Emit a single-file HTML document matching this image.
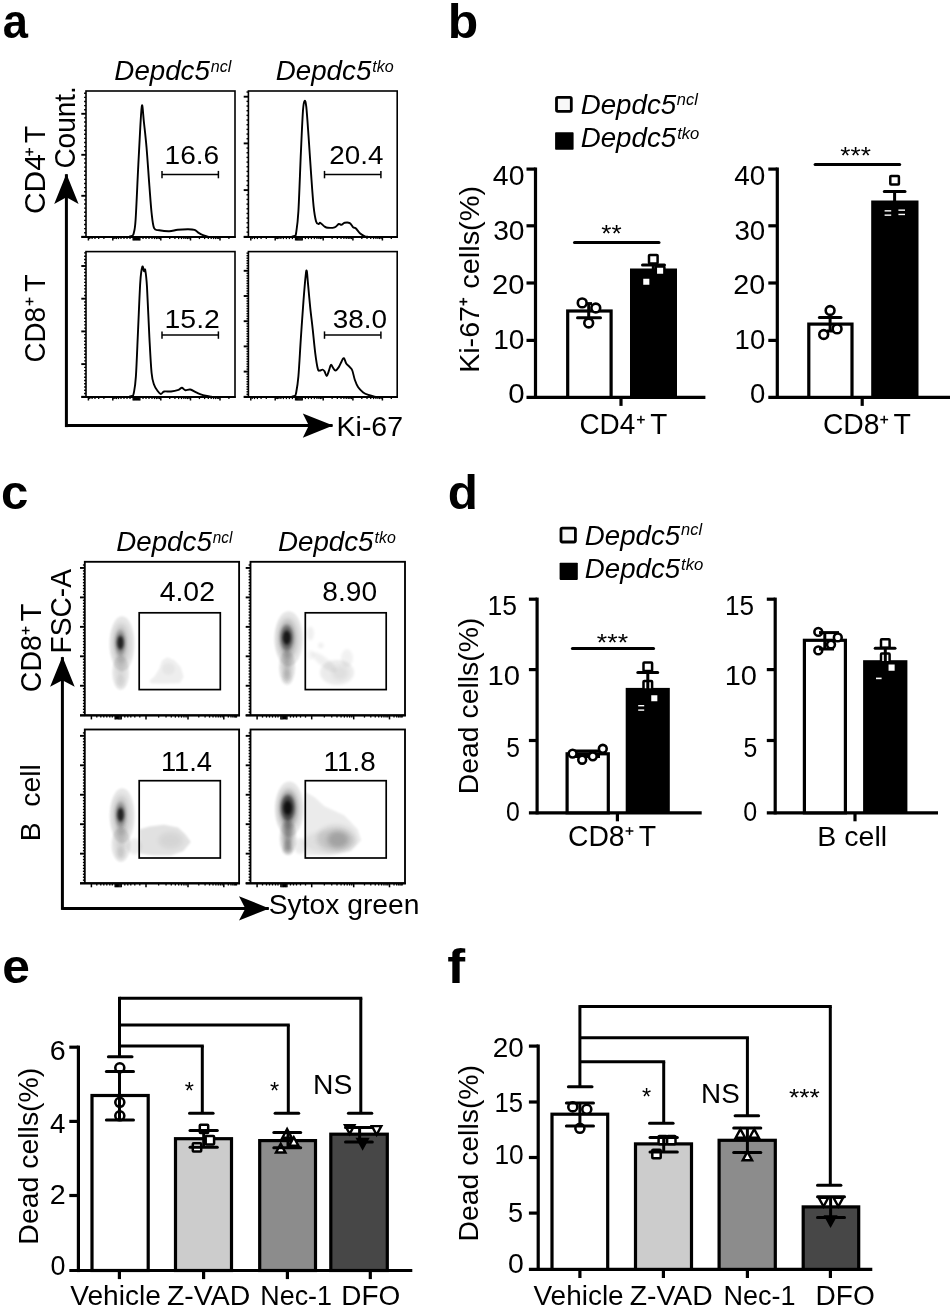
<!DOCTYPE html>
<html><head><meta charset="utf-8"><title>Figure</title>
<style>
html,body{margin:0;padding:0;background:#fff;}
svg{display:block;}
text{font-family:"Liberation Sans",sans-serif;fill:#000;}
</style></head><body>
<svg style="opacity:0.9999" width="950" height="1312" viewBox="0 0 950 1312">
<rect x="0" y="0" width="950" height="1312" fill="#fff"/>
<defs>
<filter id="bl1" x="-50%" y="-50%" width="200%" height="200%"><feGaussianBlur stdDeviation="1.6"/></filter>
<filter id="bl2" x="-50%" y="-50%" width="200%" height="200%"><feGaussianBlur stdDeviation="2.6"/></filter>
<filter id="bl4" x="-50%" y="-50%" width="200%" height="200%"><feGaussianBlur stdDeviation="1.1"/></filter>
<filter id="bl3" x="-50%" y="-50%" width="200%" height="200%"><feGaussianBlur stdDeviation="0.45"/></filter>
</defs>
<text transform="translate(2.79,37.70) scale(0.9249,1)" font-size="49" font-weight="bold" xml:space="preserve">a</text>
<text transform="translate(447.66,37.70) scale(1.0184,1)" font-size="49" font-weight="bold" xml:space="preserve">b</text>
<text transform="translate(0.88,508.70) scale(1.0037,1)" font-size="49" font-weight="bold" xml:space="preserve">c</text>
<text transform="translate(447.77,508.70) scale(1.0083,1)" font-size="49" font-weight="bold" xml:space="preserve">d</text>
<text transform="translate(2.16,982.80) scale(1.0141,1)" font-size="49" font-weight="bold" xml:space="preserve">e</text>
<text transform="translate(447.29,983.20) scale(1.0974,1)" font-size="49" font-weight="bold" xml:space="preserve">f</text>
<rect x="86.00" y="91.00" width="149.00" height="145.80" fill="none" stroke="#000" stroke-width="1.6"/>
<line x1="81.30" y1="236.80" x2="86.00" y2="236.80" stroke="#000" stroke-width="1.9" stroke-linecap="butt"/>
<line x1="84.10" y1="232.70" x2="86.00" y2="232.70" stroke="#000" stroke-width="1.4" stroke-linecap="butt"/>
<line x1="84.10" y1="228.60" x2="86.00" y2="228.60" stroke="#000" stroke-width="1.4" stroke-linecap="butt"/>
<line x1="84.10" y1="224.50" x2="86.00" y2="224.50" stroke="#000" stroke-width="1.4" stroke-linecap="butt"/>
<line x1="84.10" y1="220.40" x2="86.00" y2="220.40" stroke="#000" stroke-width="1.4" stroke-linecap="butt"/>
<line x1="84.10" y1="216.30" x2="86.00" y2="216.30" stroke="#000" stroke-width="1.4" stroke-linecap="butt"/>
<line x1="84.10" y1="212.20" x2="86.00" y2="212.20" stroke="#000" stroke-width="1.4" stroke-linecap="butt"/>
<line x1="84.10" y1="208.10" x2="86.00" y2="208.10" stroke="#000" stroke-width="1.4" stroke-linecap="butt"/>
<line x1="84.10" y1="204.00" x2="86.00" y2="204.00" stroke="#000" stroke-width="1.4" stroke-linecap="butt"/>
<line x1="84.10" y1="199.90" x2="86.00" y2="199.90" stroke="#000" stroke-width="1.4" stroke-linecap="butt"/>
<line x1="81.30" y1="195.80" x2="86.00" y2="195.80" stroke="#000" stroke-width="1.9" stroke-linecap="butt"/>
<line x1="84.10" y1="191.70" x2="86.00" y2="191.70" stroke="#000" stroke-width="1.4" stroke-linecap="butt"/>
<line x1="84.10" y1="187.60" x2="86.00" y2="187.60" stroke="#000" stroke-width="1.4" stroke-linecap="butt"/>
<line x1="84.10" y1="183.50" x2="86.00" y2="183.50" stroke="#000" stroke-width="1.4" stroke-linecap="butt"/>
<line x1="84.10" y1="179.40" x2="86.00" y2="179.40" stroke="#000" stroke-width="1.4" stroke-linecap="butt"/>
<line x1="84.10" y1="175.30" x2="86.00" y2="175.30" stroke="#000" stroke-width="1.4" stroke-linecap="butt"/>
<line x1="84.10" y1="171.20" x2="86.00" y2="171.20" stroke="#000" stroke-width="1.4" stroke-linecap="butt"/>
<line x1="84.10" y1="167.10" x2="86.00" y2="167.10" stroke="#000" stroke-width="1.4" stroke-linecap="butt"/>
<line x1="84.10" y1="163.00" x2="86.00" y2="163.00" stroke="#000" stroke-width="1.4" stroke-linecap="butt"/>
<line x1="84.10" y1="158.90" x2="86.00" y2="158.90" stroke="#000" stroke-width="1.4" stroke-linecap="butt"/>
<line x1="81.30" y1="154.80" x2="86.00" y2="154.80" stroke="#000" stroke-width="1.9" stroke-linecap="butt"/>
<line x1="84.10" y1="150.70" x2="86.00" y2="150.70" stroke="#000" stroke-width="1.4" stroke-linecap="butt"/>
<line x1="84.10" y1="146.60" x2="86.00" y2="146.60" stroke="#000" stroke-width="1.4" stroke-linecap="butt"/>
<line x1="84.10" y1="142.50" x2="86.00" y2="142.50" stroke="#000" stroke-width="1.4" stroke-linecap="butt"/>
<line x1="84.10" y1="138.40" x2="86.00" y2="138.40" stroke="#000" stroke-width="1.4" stroke-linecap="butt"/>
<line x1="84.10" y1="134.30" x2="86.00" y2="134.30" stroke="#000" stroke-width="1.4" stroke-linecap="butt"/>
<line x1="84.10" y1="130.20" x2="86.00" y2="130.20" stroke="#000" stroke-width="1.4" stroke-linecap="butt"/>
<line x1="84.10" y1="126.10" x2="86.00" y2="126.10" stroke="#000" stroke-width="1.4" stroke-linecap="butt"/>
<line x1="84.10" y1="122.00" x2="86.00" y2="122.00" stroke="#000" stroke-width="1.4" stroke-linecap="butt"/>
<line x1="84.10" y1="117.90" x2="86.00" y2="117.90" stroke="#000" stroke-width="1.4" stroke-linecap="butt"/>
<line x1="81.30" y1="113.80" x2="86.00" y2="113.80" stroke="#000" stroke-width="1.9" stroke-linecap="butt"/>
<line x1="84.10" y1="109.70" x2="86.00" y2="109.70" stroke="#000" stroke-width="1.4" stroke-linecap="butt"/>
<line x1="84.10" y1="105.60" x2="86.00" y2="105.60" stroke="#000" stroke-width="1.4" stroke-linecap="butt"/>
<line x1="84.10" y1="101.50" x2="86.00" y2="101.50" stroke="#000" stroke-width="1.4" stroke-linecap="butt"/>
<line x1="84.10" y1="97.40" x2="86.00" y2="97.40" stroke="#000" stroke-width="1.4" stroke-linecap="butt"/>
<line x1="84.10" y1="93.30" x2="86.00" y2="93.30" stroke="#000" stroke-width="1.4" stroke-linecap="butt"/>
<line x1="88.40" y1="236.80" x2="88.40" y2="240.50" stroke="#000" stroke-width="1.5" stroke-linecap="butt"/>
<line x1="112.80" y1="236.80" x2="112.80" y2="240.50" stroke="#000" stroke-width="1.5" stroke-linecap="butt"/>
<line x1="160.80" y1="236.80" x2="160.80" y2="240.50" stroke="#000" stroke-width="1.5" stroke-linecap="butt"/>
<line x1="190.50" y1="236.80" x2="190.50" y2="240.50" stroke="#000" stroke-width="1.5" stroke-linecap="butt"/>
<line x1="220.00" y1="236.80" x2="220.00" y2="240.50" stroke="#000" stroke-width="1.5" stroke-linecap="butt"/>
<line x1="133.20" y1="236.80" x2="133.20" y2="240.50" stroke="#000" stroke-width="1.5" stroke-linecap="butt"/>
<line x1="134.30" y1="236.80" x2="134.30" y2="240.50" stroke="#000" stroke-width="1.5" stroke-linecap="butt"/>
<line x1="135.40" y1="236.80" x2="135.40" y2="240.50" stroke="#000" stroke-width="1.5" stroke-linecap="butt"/>
<line x1="136.50" y1="236.80" x2="136.50" y2="240.50" stroke="#000" stroke-width="1.5" stroke-linecap="butt"/>
<line x1="137.60" y1="236.80" x2="137.60" y2="240.50" stroke="#000" stroke-width="1.5" stroke-linecap="butt"/>
<line x1="138.70" y1="236.80" x2="138.70" y2="240.50" stroke="#000" stroke-width="1.5" stroke-linecap="butt"/>
<line x1="139.80" y1="236.80" x2="139.80" y2="240.50" stroke="#000" stroke-width="1.5" stroke-linecap="butt"/>
<line x1="169.71" y1="236.80" x2="169.71" y2="239.10" stroke="#000" stroke-width="1.3" stroke-linecap="butt"/>
<line x1="174.92" y1="236.80" x2="174.92" y2="239.10" stroke="#000" stroke-width="1.3" stroke-linecap="butt"/>
<line x1="178.62" y1="236.80" x2="178.62" y2="239.10" stroke="#000" stroke-width="1.3" stroke-linecap="butt"/>
<line x1="181.49" y1="236.80" x2="181.49" y2="239.10" stroke="#000" stroke-width="1.3" stroke-linecap="butt"/>
<line x1="183.83" y1="236.80" x2="183.83" y2="239.10" stroke="#000" stroke-width="1.3" stroke-linecap="butt"/>
<line x1="185.81" y1="236.80" x2="185.81" y2="239.10" stroke="#000" stroke-width="1.3" stroke-linecap="butt"/>
<line x1="187.53" y1="236.80" x2="187.53" y2="239.10" stroke="#000" stroke-width="1.3" stroke-linecap="butt"/>
<line x1="189.05" y1="236.80" x2="189.05" y2="239.10" stroke="#000" stroke-width="1.3" stroke-linecap="butt"/>
<line x1="199.41" y1="236.80" x2="199.41" y2="239.10" stroke="#000" stroke-width="1.3" stroke-linecap="butt"/>
<line x1="204.62" y1="236.80" x2="204.62" y2="239.10" stroke="#000" stroke-width="1.3" stroke-linecap="butt"/>
<line x1="208.32" y1="236.80" x2="208.32" y2="239.10" stroke="#000" stroke-width="1.3" stroke-linecap="butt"/>
<line x1="211.19" y1="236.80" x2="211.19" y2="239.10" stroke="#000" stroke-width="1.3" stroke-linecap="butt"/>
<line x1="213.53" y1="236.80" x2="213.53" y2="239.10" stroke="#000" stroke-width="1.3" stroke-linecap="butt"/>
<line x1="215.51" y1="236.80" x2="215.51" y2="239.10" stroke="#000" stroke-width="1.3" stroke-linecap="butt"/>
<line x1="217.23" y1="236.80" x2="217.23" y2="239.10" stroke="#000" stroke-width="1.3" stroke-linecap="butt"/>
<line x1="218.75" y1="236.80" x2="218.75" y2="239.10" stroke="#000" stroke-width="1.3" stroke-linecap="butt"/>
<line x1="228.91" y1="236.80" x2="228.91" y2="239.10" stroke="#000" stroke-width="1.3" stroke-linecap="butt"/>
<line x1="143.00" y1="236.80" x2="143.00" y2="239.10" stroke="#000" stroke-width="1.3" stroke-linecap="butt"/>
<line x1="146.00" y1="236.80" x2="146.00" y2="239.10" stroke="#000" stroke-width="1.3" stroke-linecap="butt"/>
<line x1="149.00" y1="236.80" x2="149.00" y2="239.10" stroke="#000" stroke-width="1.3" stroke-linecap="butt"/>
<line x1="152.00" y1="236.80" x2="152.00" y2="239.10" stroke="#000" stroke-width="1.3" stroke-linecap="butt"/>
<line x1="154.50" y1="236.80" x2="154.50" y2="239.10" stroke="#000" stroke-width="1.3" stroke-linecap="butt"/>
<line x1="156.50" y1="236.80" x2="156.50" y2="239.10" stroke="#000" stroke-width="1.3" stroke-linecap="butt"/>
<line x1="158.00" y1="236.80" x2="158.00" y2="239.10" stroke="#000" stroke-width="1.3" stroke-linecap="butt"/>
<line x1="159.50" y1="236.80" x2="159.50" y2="239.10" stroke="#000" stroke-width="1.3" stroke-linecap="butt"/>
<line x1="130.00" y1="236.80" x2="130.00" y2="239.10" stroke="#000" stroke-width="1.3" stroke-linecap="butt"/>
<line x1="127.00" y1="236.80" x2="127.00" y2="239.10" stroke="#000" stroke-width="1.3" stroke-linecap="butt"/>
<line x1="124.00" y1="236.80" x2="124.00" y2="239.10" stroke="#000" stroke-width="1.3" stroke-linecap="butt"/>
<line x1="121.00" y1="236.80" x2="121.00" y2="239.10" stroke="#000" stroke-width="1.3" stroke-linecap="butt"/>
<line x1="118.50" y1="236.80" x2="118.50" y2="239.10" stroke="#000" stroke-width="1.3" stroke-linecap="butt"/>
<line x1="116.50" y1="236.80" x2="116.50" y2="239.10" stroke="#000" stroke-width="1.3" stroke-linecap="butt"/>
<line x1="115.00" y1="236.80" x2="115.00" y2="239.10" stroke="#000" stroke-width="1.3" stroke-linecap="butt"/>
<line x1="113.80" y1="236.80" x2="113.80" y2="239.10" stroke="#000" stroke-width="1.3" stroke-linecap="butt"/>
<line x1="103.89" y1="236.80" x2="103.89" y2="239.10" stroke="#000" stroke-width="1.3" stroke-linecap="butt"/>
<line x1="98.68" y1="236.80" x2="98.68" y2="239.10" stroke="#000" stroke-width="1.3" stroke-linecap="butt"/>
<line x1="94.98" y1="236.80" x2="94.98" y2="239.10" stroke="#000" stroke-width="1.3" stroke-linecap="butt"/>
<line x1="92.11" y1="236.80" x2="92.11" y2="239.10" stroke="#000" stroke-width="1.3" stroke-linecap="butt"/>
<line x1="89.77" y1="236.80" x2="89.77" y2="239.10" stroke="#000" stroke-width="1.3" stroke-linecap="butt"/>
<line x1="81.40" y1="237.15" x2="235.80" y2="237.15" stroke="#000" stroke-width="1.9" stroke-linecap="butt"/>
<rect x="248.40" y="91.00" width="148.80" height="145.80" fill="none" stroke="#000" stroke-width="1.6"/>
<line x1="243.70" y1="236.80" x2="248.40" y2="236.80" stroke="#000" stroke-width="1.9" stroke-linecap="butt"/>
<line x1="246.50" y1="232.13" x2="248.40" y2="232.13" stroke="#000" stroke-width="1.4" stroke-linecap="butt"/>
<line x1="246.50" y1="227.46" x2="248.40" y2="227.46" stroke="#000" stroke-width="1.4" stroke-linecap="butt"/>
<line x1="246.50" y1="222.79" x2="248.40" y2="222.79" stroke="#000" stroke-width="1.4" stroke-linecap="butt"/>
<line x1="246.50" y1="218.12" x2="248.40" y2="218.12" stroke="#000" stroke-width="1.4" stroke-linecap="butt"/>
<line x1="246.50" y1="213.45" x2="248.40" y2="213.45" stroke="#000" stroke-width="1.4" stroke-linecap="butt"/>
<line x1="246.50" y1="208.78" x2="248.40" y2="208.78" stroke="#000" stroke-width="1.4" stroke-linecap="butt"/>
<line x1="246.50" y1="204.11" x2="248.40" y2="204.11" stroke="#000" stroke-width="1.4" stroke-linecap="butt"/>
<line x1="246.50" y1="199.44" x2="248.40" y2="199.44" stroke="#000" stroke-width="1.4" stroke-linecap="butt"/>
<line x1="246.50" y1="194.77" x2="248.40" y2="194.77" stroke="#000" stroke-width="1.4" stroke-linecap="butt"/>
<line x1="243.70" y1="190.10" x2="248.40" y2="190.10" stroke="#000" stroke-width="1.9" stroke-linecap="butt"/>
<line x1="246.50" y1="185.43" x2="248.40" y2="185.43" stroke="#000" stroke-width="1.4" stroke-linecap="butt"/>
<line x1="246.50" y1="180.76" x2="248.40" y2="180.76" stroke="#000" stroke-width="1.4" stroke-linecap="butt"/>
<line x1="246.50" y1="176.09" x2="248.40" y2="176.09" stroke="#000" stroke-width="1.4" stroke-linecap="butt"/>
<line x1="246.50" y1="171.42" x2="248.40" y2="171.42" stroke="#000" stroke-width="1.4" stroke-linecap="butt"/>
<line x1="246.50" y1="166.75" x2="248.40" y2="166.75" stroke="#000" stroke-width="1.4" stroke-linecap="butt"/>
<line x1="246.50" y1="162.08" x2="248.40" y2="162.08" stroke="#000" stroke-width="1.4" stroke-linecap="butt"/>
<line x1="246.50" y1="157.41" x2="248.40" y2="157.41" stroke="#000" stroke-width="1.4" stroke-linecap="butt"/>
<line x1="246.50" y1="152.74" x2="248.40" y2="152.74" stroke="#000" stroke-width="1.4" stroke-linecap="butt"/>
<line x1="246.50" y1="148.07" x2="248.40" y2="148.07" stroke="#000" stroke-width="1.4" stroke-linecap="butt"/>
<line x1="243.70" y1="143.40" x2="248.40" y2="143.40" stroke="#000" stroke-width="1.9" stroke-linecap="butt"/>
<line x1="246.50" y1="138.73" x2="248.40" y2="138.73" stroke="#000" stroke-width="1.4" stroke-linecap="butt"/>
<line x1="246.50" y1="134.06" x2="248.40" y2="134.06" stroke="#000" stroke-width="1.4" stroke-linecap="butt"/>
<line x1="246.50" y1="129.39" x2="248.40" y2="129.39" stroke="#000" stroke-width="1.4" stroke-linecap="butt"/>
<line x1="246.50" y1="124.72" x2="248.40" y2="124.72" stroke="#000" stroke-width="1.4" stroke-linecap="butt"/>
<line x1="246.50" y1="120.05" x2="248.40" y2="120.05" stroke="#000" stroke-width="1.4" stroke-linecap="butt"/>
<line x1="246.50" y1="115.38" x2="248.40" y2="115.38" stroke="#000" stroke-width="1.4" stroke-linecap="butt"/>
<line x1="246.50" y1="110.71" x2="248.40" y2="110.71" stroke="#000" stroke-width="1.4" stroke-linecap="butt"/>
<line x1="246.50" y1="106.04" x2="248.40" y2="106.04" stroke="#000" stroke-width="1.4" stroke-linecap="butt"/>
<line x1="246.50" y1="101.37" x2="248.40" y2="101.37" stroke="#000" stroke-width="1.4" stroke-linecap="butt"/>
<line x1="243.70" y1="96.70" x2="248.40" y2="96.70" stroke="#000" stroke-width="1.9" stroke-linecap="butt"/>
<line x1="246.50" y1="92.03" x2="248.40" y2="92.03" stroke="#000" stroke-width="1.4" stroke-linecap="butt"/>
<line x1="250.80" y1="236.80" x2="250.80" y2="240.50" stroke="#000" stroke-width="1.5" stroke-linecap="butt"/>
<line x1="275.20" y1="236.80" x2="275.20" y2="240.50" stroke="#000" stroke-width="1.5" stroke-linecap="butt"/>
<line x1="323.20" y1="236.80" x2="323.20" y2="240.50" stroke="#000" stroke-width="1.5" stroke-linecap="butt"/>
<line x1="352.90" y1="236.80" x2="352.90" y2="240.50" stroke="#000" stroke-width="1.5" stroke-linecap="butt"/>
<line x1="382.40" y1="236.80" x2="382.40" y2="240.50" stroke="#000" stroke-width="1.5" stroke-linecap="butt"/>
<line x1="295.60" y1="236.80" x2="295.60" y2="240.50" stroke="#000" stroke-width="1.5" stroke-linecap="butt"/>
<line x1="296.70" y1="236.80" x2="296.70" y2="240.50" stroke="#000" stroke-width="1.5" stroke-linecap="butt"/>
<line x1="297.80" y1="236.80" x2="297.80" y2="240.50" stroke="#000" stroke-width="1.5" stroke-linecap="butt"/>
<line x1="298.90" y1="236.80" x2="298.90" y2="240.50" stroke="#000" stroke-width="1.5" stroke-linecap="butt"/>
<line x1="300.00" y1="236.80" x2="300.00" y2="240.50" stroke="#000" stroke-width="1.5" stroke-linecap="butt"/>
<line x1="301.10" y1="236.80" x2="301.10" y2="240.50" stroke="#000" stroke-width="1.5" stroke-linecap="butt"/>
<line x1="302.20" y1="236.80" x2="302.20" y2="240.50" stroke="#000" stroke-width="1.5" stroke-linecap="butt"/>
<line x1="332.11" y1="236.80" x2="332.11" y2="239.10" stroke="#000" stroke-width="1.3" stroke-linecap="butt"/>
<line x1="337.32" y1="236.80" x2="337.32" y2="239.10" stroke="#000" stroke-width="1.3" stroke-linecap="butt"/>
<line x1="341.02" y1="236.80" x2="341.02" y2="239.10" stroke="#000" stroke-width="1.3" stroke-linecap="butt"/>
<line x1="343.89" y1="236.80" x2="343.89" y2="239.10" stroke="#000" stroke-width="1.3" stroke-linecap="butt"/>
<line x1="346.23" y1="236.80" x2="346.23" y2="239.10" stroke="#000" stroke-width="1.3" stroke-linecap="butt"/>
<line x1="348.21" y1="236.80" x2="348.21" y2="239.10" stroke="#000" stroke-width="1.3" stroke-linecap="butt"/>
<line x1="349.93" y1="236.80" x2="349.93" y2="239.10" stroke="#000" stroke-width="1.3" stroke-linecap="butt"/>
<line x1="351.45" y1="236.80" x2="351.45" y2="239.10" stroke="#000" stroke-width="1.3" stroke-linecap="butt"/>
<line x1="361.81" y1="236.80" x2="361.81" y2="239.10" stroke="#000" stroke-width="1.3" stroke-linecap="butt"/>
<line x1="367.02" y1="236.80" x2="367.02" y2="239.10" stroke="#000" stroke-width="1.3" stroke-linecap="butt"/>
<line x1="370.72" y1="236.80" x2="370.72" y2="239.10" stroke="#000" stroke-width="1.3" stroke-linecap="butt"/>
<line x1="373.59" y1="236.80" x2="373.59" y2="239.10" stroke="#000" stroke-width="1.3" stroke-linecap="butt"/>
<line x1="375.93" y1="236.80" x2="375.93" y2="239.10" stroke="#000" stroke-width="1.3" stroke-linecap="butt"/>
<line x1="377.91" y1="236.80" x2="377.91" y2="239.10" stroke="#000" stroke-width="1.3" stroke-linecap="butt"/>
<line x1="379.63" y1="236.80" x2="379.63" y2="239.10" stroke="#000" stroke-width="1.3" stroke-linecap="butt"/>
<line x1="381.15" y1="236.80" x2="381.15" y2="239.10" stroke="#000" stroke-width="1.3" stroke-linecap="butt"/>
<line x1="391.31" y1="236.80" x2="391.31" y2="239.10" stroke="#000" stroke-width="1.3" stroke-linecap="butt"/>
<line x1="305.40" y1="236.80" x2="305.40" y2="239.10" stroke="#000" stroke-width="1.3" stroke-linecap="butt"/>
<line x1="308.40" y1="236.80" x2="308.40" y2="239.10" stroke="#000" stroke-width="1.3" stroke-linecap="butt"/>
<line x1="311.40" y1="236.80" x2="311.40" y2="239.10" stroke="#000" stroke-width="1.3" stroke-linecap="butt"/>
<line x1="314.40" y1="236.80" x2="314.40" y2="239.10" stroke="#000" stroke-width="1.3" stroke-linecap="butt"/>
<line x1="316.90" y1="236.80" x2="316.90" y2="239.10" stroke="#000" stroke-width="1.3" stroke-linecap="butt"/>
<line x1="318.90" y1="236.80" x2="318.90" y2="239.10" stroke="#000" stroke-width="1.3" stroke-linecap="butt"/>
<line x1="320.40" y1="236.80" x2="320.40" y2="239.10" stroke="#000" stroke-width="1.3" stroke-linecap="butt"/>
<line x1="321.90" y1="236.80" x2="321.90" y2="239.10" stroke="#000" stroke-width="1.3" stroke-linecap="butt"/>
<line x1="292.40" y1="236.80" x2="292.40" y2="239.10" stroke="#000" stroke-width="1.3" stroke-linecap="butt"/>
<line x1="289.40" y1="236.80" x2="289.40" y2="239.10" stroke="#000" stroke-width="1.3" stroke-linecap="butt"/>
<line x1="286.40" y1="236.80" x2="286.40" y2="239.10" stroke="#000" stroke-width="1.3" stroke-linecap="butt"/>
<line x1="283.40" y1="236.80" x2="283.40" y2="239.10" stroke="#000" stroke-width="1.3" stroke-linecap="butt"/>
<line x1="280.90" y1="236.80" x2="280.90" y2="239.10" stroke="#000" stroke-width="1.3" stroke-linecap="butt"/>
<line x1="278.90" y1="236.80" x2="278.90" y2="239.10" stroke="#000" stroke-width="1.3" stroke-linecap="butt"/>
<line x1="277.40" y1="236.80" x2="277.40" y2="239.10" stroke="#000" stroke-width="1.3" stroke-linecap="butt"/>
<line x1="276.20" y1="236.80" x2="276.20" y2="239.10" stroke="#000" stroke-width="1.3" stroke-linecap="butt"/>
<line x1="266.29" y1="236.80" x2="266.29" y2="239.10" stroke="#000" stroke-width="1.3" stroke-linecap="butt"/>
<line x1="261.08" y1="236.80" x2="261.08" y2="239.10" stroke="#000" stroke-width="1.3" stroke-linecap="butt"/>
<line x1="257.38" y1="236.80" x2="257.38" y2="239.10" stroke="#000" stroke-width="1.3" stroke-linecap="butt"/>
<line x1="254.51" y1="236.80" x2="254.51" y2="239.10" stroke="#000" stroke-width="1.3" stroke-linecap="butt"/>
<line x1="252.17" y1="236.80" x2="252.17" y2="239.10" stroke="#000" stroke-width="1.3" stroke-linecap="butt"/>
<line x1="243.80" y1="237.15" x2="398.00" y2="237.15" stroke="#000" stroke-width="1.9" stroke-linecap="butt"/>
<rect x="86.00" y="251.60" width="149.00" height="145.20" fill="none" stroke="#000" stroke-width="1.6"/>
<line x1="81.30" y1="396.80" x2="86.00" y2="396.80" stroke="#000" stroke-width="1.9" stroke-linecap="butt"/>
<line x1="84.10" y1="393.53" x2="86.00" y2="393.53" stroke="#000" stroke-width="1.4" stroke-linecap="butt"/>
<line x1="84.10" y1="390.26" x2="86.00" y2="390.26" stroke="#000" stroke-width="1.4" stroke-linecap="butt"/>
<line x1="84.10" y1="386.99" x2="86.00" y2="386.99" stroke="#000" stroke-width="1.4" stroke-linecap="butt"/>
<line x1="84.10" y1="383.72" x2="86.00" y2="383.72" stroke="#000" stroke-width="1.4" stroke-linecap="butt"/>
<line x1="84.10" y1="380.45" x2="86.00" y2="380.45" stroke="#000" stroke-width="1.4" stroke-linecap="butt"/>
<line x1="84.10" y1="377.18" x2="86.00" y2="377.18" stroke="#000" stroke-width="1.4" stroke-linecap="butt"/>
<line x1="84.10" y1="373.91" x2="86.00" y2="373.91" stroke="#000" stroke-width="1.4" stroke-linecap="butt"/>
<line x1="84.10" y1="370.64" x2="86.00" y2="370.64" stroke="#000" stroke-width="1.4" stroke-linecap="butt"/>
<line x1="84.10" y1="367.37" x2="86.00" y2="367.37" stroke="#000" stroke-width="1.4" stroke-linecap="butt"/>
<line x1="81.30" y1="364.10" x2="86.00" y2="364.10" stroke="#000" stroke-width="1.9" stroke-linecap="butt"/>
<line x1="84.10" y1="360.83" x2="86.00" y2="360.83" stroke="#000" stroke-width="1.4" stroke-linecap="butt"/>
<line x1="84.10" y1="357.56" x2="86.00" y2="357.56" stroke="#000" stroke-width="1.4" stroke-linecap="butt"/>
<line x1="84.10" y1="354.29" x2="86.00" y2="354.29" stroke="#000" stroke-width="1.4" stroke-linecap="butt"/>
<line x1="84.10" y1="351.02" x2="86.00" y2="351.02" stroke="#000" stroke-width="1.4" stroke-linecap="butt"/>
<line x1="84.10" y1="347.75" x2="86.00" y2="347.75" stroke="#000" stroke-width="1.4" stroke-linecap="butt"/>
<line x1="84.10" y1="344.48" x2="86.00" y2="344.48" stroke="#000" stroke-width="1.4" stroke-linecap="butt"/>
<line x1="84.10" y1="341.21" x2="86.00" y2="341.21" stroke="#000" stroke-width="1.4" stroke-linecap="butt"/>
<line x1="84.10" y1="337.94" x2="86.00" y2="337.94" stroke="#000" stroke-width="1.4" stroke-linecap="butt"/>
<line x1="84.10" y1="334.67" x2="86.00" y2="334.67" stroke="#000" stroke-width="1.4" stroke-linecap="butt"/>
<line x1="81.30" y1="331.40" x2="86.00" y2="331.40" stroke="#000" stroke-width="1.9" stroke-linecap="butt"/>
<line x1="84.10" y1="328.13" x2="86.00" y2="328.13" stroke="#000" stroke-width="1.4" stroke-linecap="butt"/>
<line x1="84.10" y1="324.86" x2="86.00" y2="324.86" stroke="#000" stroke-width="1.4" stroke-linecap="butt"/>
<line x1="84.10" y1="321.59" x2="86.00" y2="321.59" stroke="#000" stroke-width="1.4" stroke-linecap="butt"/>
<line x1="84.10" y1="318.32" x2="86.00" y2="318.32" stroke="#000" stroke-width="1.4" stroke-linecap="butt"/>
<line x1="84.10" y1="315.05" x2="86.00" y2="315.05" stroke="#000" stroke-width="1.4" stroke-linecap="butt"/>
<line x1="84.10" y1="311.78" x2="86.00" y2="311.78" stroke="#000" stroke-width="1.4" stroke-linecap="butt"/>
<line x1="84.10" y1="308.51" x2="86.00" y2="308.51" stroke="#000" stroke-width="1.4" stroke-linecap="butt"/>
<line x1="84.10" y1="305.24" x2="86.00" y2="305.24" stroke="#000" stroke-width="1.4" stroke-linecap="butt"/>
<line x1="84.10" y1="301.97" x2="86.00" y2="301.97" stroke="#000" stroke-width="1.4" stroke-linecap="butt"/>
<line x1="81.30" y1="298.70" x2="86.00" y2="298.70" stroke="#000" stroke-width="1.9" stroke-linecap="butt"/>
<line x1="84.10" y1="295.43" x2="86.00" y2="295.43" stroke="#000" stroke-width="1.4" stroke-linecap="butt"/>
<line x1="84.10" y1="292.16" x2="86.00" y2="292.16" stroke="#000" stroke-width="1.4" stroke-linecap="butt"/>
<line x1="84.10" y1="288.89" x2="86.00" y2="288.89" stroke="#000" stroke-width="1.4" stroke-linecap="butt"/>
<line x1="84.10" y1="285.62" x2="86.00" y2="285.62" stroke="#000" stroke-width="1.4" stroke-linecap="butt"/>
<line x1="84.10" y1="282.35" x2="86.00" y2="282.35" stroke="#000" stroke-width="1.4" stroke-linecap="butt"/>
<line x1="84.10" y1="279.08" x2="86.00" y2="279.08" stroke="#000" stroke-width="1.4" stroke-linecap="butt"/>
<line x1="84.10" y1="275.81" x2="86.00" y2="275.81" stroke="#000" stroke-width="1.4" stroke-linecap="butt"/>
<line x1="84.10" y1="272.54" x2="86.00" y2="272.54" stroke="#000" stroke-width="1.4" stroke-linecap="butt"/>
<line x1="84.10" y1="269.27" x2="86.00" y2="269.27" stroke="#000" stroke-width="1.4" stroke-linecap="butt"/>
<line x1="81.30" y1="266.00" x2="86.00" y2="266.00" stroke="#000" stroke-width="1.9" stroke-linecap="butt"/>
<line x1="84.10" y1="262.73" x2="86.00" y2="262.73" stroke="#000" stroke-width="1.4" stroke-linecap="butt"/>
<line x1="84.10" y1="259.46" x2="86.00" y2="259.46" stroke="#000" stroke-width="1.4" stroke-linecap="butt"/>
<line x1="84.10" y1="256.19" x2="86.00" y2="256.19" stroke="#000" stroke-width="1.4" stroke-linecap="butt"/>
<line x1="84.10" y1="252.92" x2="86.00" y2="252.92" stroke="#000" stroke-width="1.4" stroke-linecap="butt"/>
<line x1="88.40" y1="396.80" x2="88.40" y2="400.50" stroke="#000" stroke-width="1.5" stroke-linecap="butt"/>
<line x1="112.80" y1="396.80" x2="112.80" y2="400.50" stroke="#000" stroke-width="1.5" stroke-linecap="butt"/>
<line x1="160.80" y1="396.80" x2="160.80" y2="400.50" stroke="#000" stroke-width="1.5" stroke-linecap="butt"/>
<line x1="190.50" y1="396.80" x2="190.50" y2="400.50" stroke="#000" stroke-width="1.5" stroke-linecap="butt"/>
<line x1="220.00" y1="396.80" x2="220.00" y2="400.50" stroke="#000" stroke-width="1.5" stroke-linecap="butt"/>
<line x1="133.20" y1="396.80" x2="133.20" y2="400.50" stroke="#000" stroke-width="1.5" stroke-linecap="butt"/>
<line x1="134.30" y1="396.80" x2="134.30" y2="400.50" stroke="#000" stroke-width="1.5" stroke-linecap="butt"/>
<line x1="135.40" y1="396.80" x2="135.40" y2="400.50" stroke="#000" stroke-width="1.5" stroke-linecap="butt"/>
<line x1="136.50" y1="396.80" x2="136.50" y2="400.50" stroke="#000" stroke-width="1.5" stroke-linecap="butt"/>
<line x1="137.60" y1="396.80" x2="137.60" y2="400.50" stroke="#000" stroke-width="1.5" stroke-linecap="butt"/>
<line x1="138.70" y1="396.80" x2="138.70" y2="400.50" stroke="#000" stroke-width="1.5" stroke-linecap="butt"/>
<line x1="139.80" y1="396.80" x2="139.80" y2="400.50" stroke="#000" stroke-width="1.5" stroke-linecap="butt"/>
<line x1="169.71" y1="396.80" x2="169.71" y2="399.10" stroke="#000" stroke-width="1.3" stroke-linecap="butt"/>
<line x1="174.92" y1="396.80" x2="174.92" y2="399.10" stroke="#000" stroke-width="1.3" stroke-linecap="butt"/>
<line x1="178.62" y1="396.80" x2="178.62" y2="399.10" stroke="#000" stroke-width="1.3" stroke-linecap="butt"/>
<line x1="181.49" y1="396.80" x2="181.49" y2="399.10" stroke="#000" stroke-width="1.3" stroke-linecap="butt"/>
<line x1="183.83" y1="396.80" x2="183.83" y2="399.10" stroke="#000" stroke-width="1.3" stroke-linecap="butt"/>
<line x1="185.81" y1="396.80" x2="185.81" y2="399.10" stroke="#000" stroke-width="1.3" stroke-linecap="butt"/>
<line x1="187.53" y1="396.80" x2="187.53" y2="399.10" stroke="#000" stroke-width="1.3" stroke-linecap="butt"/>
<line x1="189.05" y1="396.80" x2="189.05" y2="399.10" stroke="#000" stroke-width="1.3" stroke-linecap="butt"/>
<line x1="199.41" y1="396.80" x2="199.41" y2="399.10" stroke="#000" stroke-width="1.3" stroke-linecap="butt"/>
<line x1="204.62" y1="396.80" x2="204.62" y2="399.10" stroke="#000" stroke-width="1.3" stroke-linecap="butt"/>
<line x1="208.32" y1="396.80" x2="208.32" y2="399.10" stroke="#000" stroke-width="1.3" stroke-linecap="butt"/>
<line x1="211.19" y1="396.80" x2="211.19" y2="399.10" stroke="#000" stroke-width="1.3" stroke-linecap="butt"/>
<line x1="213.53" y1="396.80" x2="213.53" y2="399.10" stroke="#000" stroke-width="1.3" stroke-linecap="butt"/>
<line x1="215.51" y1="396.80" x2="215.51" y2="399.10" stroke="#000" stroke-width="1.3" stroke-linecap="butt"/>
<line x1="217.23" y1="396.80" x2="217.23" y2="399.10" stroke="#000" stroke-width="1.3" stroke-linecap="butt"/>
<line x1="218.75" y1="396.80" x2="218.75" y2="399.10" stroke="#000" stroke-width="1.3" stroke-linecap="butt"/>
<line x1="228.91" y1="396.80" x2="228.91" y2="399.10" stroke="#000" stroke-width="1.3" stroke-linecap="butt"/>
<line x1="143.00" y1="396.80" x2="143.00" y2="399.10" stroke="#000" stroke-width="1.3" stroke-linecap="butt"/>
<line x1="146.00" y1="396.80" x2="146.00" y2="399.10" stroke="#000" stroke-width="1.3" stroke-linecap="butt"/>
<line x1="149.00" y1="396.80" x2="149.00" y2="399.10" stroke="#000" stroke-width="1.3" stroke-linecap="butt"/>
<line x1="152.00" y1="396.80" x2="152.00" y2="399.10" stroke="#000" stroke-width="1.3" stroke-linecap="butt"/>
<line x1="154.50" y1="396.80" x2="154.50" y2="399.10" stroke="#000" stroke-width="1.3" stroke-linecap="butt"/>
<line x1="156.50" y1="396.80" x2="156.50" y2="399.10" stroke="#000" stroke-width="1.3" stroke-linecap="butt"/>
<line x1="158.00" y1="396.80" x2="158.00" y2="399.10" stroke="#000" stroke-width="1.3" stroke-linecap="butt"/>
<line x1="159.50" y1="396.80" x2="159.50" y2="399.10" stroke="#000" stroke-width="1.3" stroke-linecap="butt"/>
<line x1="130.00" y1="396.80" x2="130.00" y2="399.10" stroke="#000" stroke-width="1.3" stroke-linecap="butt"/>
<line x1="127.00" y1="396.80" x2="127.00" y2="399.10" stroke="#000" stroke-width="1.3" stroke-linecap="butt"/>
<line x1="124.00" y1="396.80" x2="124.00" y2="399.10" stroke="#000" stroke-width="1.3" stroke-linecap="butt"/>
<line x1="121.00" y1="396.80" x2="121.00" y2="399.10" stroke="#000" stroke-width="1.3" stroke-linecap="butt"/>
<line x1="118.50" y1="396.80" x2="118.50" y2="399.10" stroke="#000" stroke-width="1.3" stroke-linecap="butt"/>
<line x1="116.50" y1="396.80" x2="116.50" y2="399.10" stroke="#000" stroke-width="1.3" stroke-linecap="butt"/>
<line x1="115.00" y1="396.80" x2="115.00" y2="399.10" stroke="#000" stroke-width="1.3" stroke-linecap="butt"/>
<line x1="113.80" y1="396.80" x2="113.80" y2="399.10" stroke="#000" stroke-width="1.3" stroke-linecap="butt"/>
<line x1="103.89" y1="396.80" x2="103.89" y2="399.10" stroke="#000" stroke-width="1.3" stroke-linecap="butt"/>
<line x1="98.68" y1="396.80" x2="98.68" y2="399.10" stroke="#000" stroke-width="1.3" stroke-linecap="butt"/>
<line x1="94.98" y1="396.80" x2="94.98" y2="399.10" stroke="#000" stroke-width="1.3" stroke-linecap="butt"/>
<line x1="92.11" y1="396.80" x2="92.11" y2="399.10" stroke="#000" stroke-width="1.3" stroke-linecap="butt"/>
<line x1="89.77" y1="396.80" x2="89.77" y2="399.10" stroke="#000" stroke-width="1.3" stroke-linecap="butt"/>
<line x1="81.40" y1="397.15" x2="235.80" y2="397.15" stroke="#000" stroke-width="1.9" stroke-linecap="butt"/>
<rect x="248.40" y="251.60" width="148.80" height="145.20" fill="none" stroke="#000" stroke-width="1.6"/>
<line x1="243.70" y1="396.80" x2="248.40" y2="396.80" stroke="#000" stroke-width="1.9" stroke-linecap="butt"/>
<line x1="246.50" y1="394.28" x2="248.40" y2="394.28" stroke="#000" stroke-width="1.4" stroke-linecap="butt"/>
<line x1="246.50" y1="391.76" x2="248.40" y2="391.76" stroke="#000" stroke-width="1.4" stroke-linecap="butt"/>
<line x1="246.50" y1="389.24" x2="248.40" y2="389.24" stroke="#000" stroke-width="1.4" stroke-linecap="butt"/>
<line x1="246.50" y1="386.72" x2="248.40" y2="386.72" stroke="#000" stroke-width="1.4" stroke-linecap="butt"/>
<line x1="246.50" y1="384.20" x2="248.40" y2="384.20" stroke="#000" stroke-width="1.4" stroke-linecap="butt"/>
<line x1="246.50" y1="381.68" x2="248.40" y2="381.68" stroke="#000" stroke-width="1.4" stroke-linecap="butt"/>
<line x1="246.50" y1="379.16" x2="248.40" y2="379.16" stroke="#000" stroke-width="1.4" stroke-linecap="butt"/>
<line x1="246.50" y1="376.64" x2="248.40" y2="376.64" stroke="#000" stroke-width="1.4" stroke-linecap="butt"/>
<line x1="246.50" y1="374.12" x2="248.40" y2="374.12" stroke="#000" stroke-width="1.4" stroke-linecap="butt"/>
<line x1="243.70" y1="371.60" x2="248.40" y2="371.60" stroke="#000" stroke-width="1.9" stroke-linecap="butt"/>
<line x1="246.50" y1="369.08" x2="248.40" y2="369.08" stroke="#000" stroke-width="1.4" stroke-linecap="butt"/>
<line x1="246.50" y1="366.56" x2="248.40" y2="366.56" stroke="#000" stroke-width="1.4" stroke-linecap="butt"/>
<line x1="246.50" y1="364.04" x2="248.40" y2="364.04" stroke="#000" stroke-width="1.4" stroke-linecap="butt"/>
<line x1="246.50" y1="361.52" x2="248.40" y2="361.52" stroke="#000" stroke-width="1.4" stroke-linecap="butt"/>
<line x1="246.50" y1="359.00" x2="248.40" y2="359.00" stroke="#000" stroke-width="1.4" stroke-linecap="butt"/>
<line x1="246.50" y1="356.48" x2="248.40" y2="356.48" stroke="#000" stroke-width="1.4" stroke-linecap="butt"/>
<line x1="246.50" y1="353.96" x2="248.40" y2="353.96" stroke="#000" stroke-width="1.4" stroke-linecap="butt"/>
<line x1="246.50" y1="351.44" x2="248.40" y2="351.44" stroke="#000" stroke-width="1.4" stroke-linecap="butt"/>
<line x1="246.50" y1="348.92" x2="248.40" y2="348.92" stroke="#000" stroke-width="1.4" stroke-linecap="butt"/>
<line x1="243.70" y1="346.40" x2="248.40" y2="346.40" stroke="#000" stroke-width="1.9" stroke-linecap="butt"/>
<line x1="246.50" y1="343.88" x2="248.40" y2="343.88" stroke="#000" stroke-width="1.4" stroke-linecap="butt"/>
<line x1="246.50" y1="341.36" x2="248.40" y2="341.36" stroke="#000" stroke-width="1.4" stroke-linecap="butt"/>
<line x1="246.50" y1="338.84" x2="248.40" y2="338.84" stroke="#000" stroke-width="1.4" stroke-linecap="butt"/>
<line x1="246.50" y1="336.32" x2="248.40" y2="336.32" stroke="#000" stroke-width="1.4" stroke-linecap="butt"/>
<line x1="246.50" y1="333.80" x2="248.40" y2="333.80" stroke="#000" stroke-width="1.4" stroke-linecap="butt"/>
<line x1="246.50" y1="331.28" x2="248.40" y2="331.28" stroke="#000" stroke-width="1.4" stroke-linecap="butt"/>
<line x1="246.50" y1="328.76" x2="248.40" y2="328.76" stroke="#000" stroke-width="1.4" stroke-linecap="butt"/>
<line x1="246.50" y1="326.24" x2="248.40" y2="326.24" stroke="#000" stroke-width="1.4" stroke-linecap="butt"/>
<line x1="246.50" y1="323.72" x2="248.40" y2="323.72" stroke="#000" stroke-width="1.4" stroke-linecap="butt"/>
<line x1="243.70" y1="321.20" x2="248.40" y2="321.20" stroke="#000" stroke-width="1.9" stroke-linecap="butt"/>
<line x1="246.50" y1="318.68" x2="248.40" y2="318.68" stroke="#000" stroke-width="1.4" stroke-linecap="butt"/>
<line x1="246.50" y1="316.16" x2="248.40" y2="316.16" stroke="#000" stroke-width="1.4" stroke-linecap="butt"/>
<line x1="246.50" y1="313.64" x2="248.40" y2="313.64" stroke="#000" stroke-width="1.4" stroke-linecap="butt"/>
<line x1="246.50" y1="311.12" x2="248.40" y2="311.12" stroke="#000" stroke-width="1.4" stroke-linecap="butt"/>
<line x1="246.50" y1="308.60" x2="248.40" y2="308.60" stroke="#000" stroke-width="1.4" stroke-linecap="butt"/>
<line x1="246.50" y1="306.08" x2="248.40" y2="306.08" stroke="#000" stroke-width="1.4" stroke-linecap="butt"/>
<line x1="246.50" y1="303.56" x2="248.40" y2="303.56" stroke="#000" stroke-width="1.4" stroke-linecap="butt"/>
<line x1="246.50" y1="301.04" x2="248.40" y2="301.04" stroke="#000" stroke-width="1.4" stroke-linecap="butt"/>
<line x1="246.50" y1="298.52" x2="248.40" y2="298.52" stroke="#000" stroke-width="1.4" stroke-linecap="butt"/>
<line x1="243.70" y1="296.00" x2="248.40" y2="296.00" stroke="#000" stroke-width="1.9" stroke-linecap="butt"/>
<line x1="246.50" y1="293.48" x2="248.40" y2="293.48" stroke="#000" stroke-width="1.4" stroke-linecap="butt"/>
<line x1="246.50" y1="290.96" x2="248.40" y2="290.96" stroke="#000" stroke-width="1.4" stroke-linecap="butt"/>
<line x1="246.50" y1="288.44" x2="248.40" y2="288.44" stroke="#000" stroke-width="1.4" stroke-linecap="butt"/>
<line x1="246.50" y1="285.92" x2="248.40" y2="285.92" stroke="#000" stroke-width="1.4" stroke-linecap="butt"/>
<line x1="246.50" y1="283.40" x2="248.40" y2="283.40" stroke="#000" stroke-width="1.4" stroke-linecap="butt"/>
<line x1="246.50" y1="280.88" x2="248.40" y2="280.88" stroke="#000" stroke-width="1.4" stroke-linecap="butt"/>
<line x1="246.50" y1="278.36" x2="248.40" y2="278.36" stroke="#000" stroke-width="1.4" stroke-linecap="butt"/>
<line x1="246.50" y1="275.84" x2="248.40" y2="275.84" stroke="#000" stroke-width="1.4" stroke-linecap="butt"/>
<line x1="246.50" y1="273.32" x2="248.40" y2="273.32" stroke="#000" stroke-width="1.4" stroke-linecap="butt"/>
<line x1="243.70" y1="270.80" x2="248.40" y2="270.80" stroke="#000" stroke-width="1.9" stroke-linecap="butt"/>
<line x1="246.50" y1="268.28" x2="248.40" y2="268.28" stroke="#000" stroke-width="1.4" stroke-linecap="butt"/>
<line x1="246.50" y1="265.76" x2="248.40" y2="265.76" stroke="#000" stroke-width="1.4" stroke-linecap="butt"/>
<line x1="246.50" y1="263.24" x2="248.40" y2="263.24" stroke="#000" stroke-width="1.4" stroke-linecap="butt"/>
<line x1="246.50" y1="260.72" x2="248.40" y2="260.72" stroke="#000" stroke-width="1.4" stroke-linecap="butt"/>
<line x1="246.50" y1="258.20" x2="248.40" y2="258.20" stroke="#000" stroke-width="1.4" stroke-linecap="butt"/>
<line x1="246.50" y1="255.68" x2="248.40" y2="255.68" stroke="#000" stroke-width="1.4" stroke-linecap="butt"/>
<line x1="246.50" y1="253.16" x2="248.40" y2="253.16" stroke="#000" stroke-width="1.4" stroke-linecap="butt"/>
<line x1="250.80" y1="396.80" x2="250.80" y2="400.50" stroke="#000" stroke-width="1.5" stroke-linecap="butt"/>
<line x1="275.20" y1="396.80" x2="275.20" y2="400.50" stroke="#000" stroke-width="1.5" stroke-linecap="butt"/>
<line x1="323.20" y1="396.80" x2="323.20" y2="400.50" stroke="#000" stroke-width="1.5" stroke-linecap="butt"/>
<line x1="352.90" y1="396.80" x2="352.90" y2="400.50" stroke="#000" stroke-width="1.5" stroke-linecap="butt"/>
<line x1="382.40" y1="396.80" x2="382.40" y2="400.50" stroke="#000" stroke-width="1.5" stroke-linecap="butt"/>
<line x1="295.60" y1="396.80" x2="295.60" y2="400.50" stroke="#000" stroke-width="1.5" stroke-linecap="butt"/>
<line x1="296.70" y1="396.80" x2="296.70" y2="400.50" stroke="#000" stroke-width="1.5" stroke-linecap="butt"/>
<line x1="297.80" y1="396.80" x2="297.80" y2="400.50" stroke="#000" stroke-width="1.5" stroke-linecap="butt"/>
<line x1="298.90" y1="396.80" x2="298.90" y2="400.50" stroke="#000" stroke-width="1.5" stroke-linecap="butt"/>
<line x1="300.00" y1="396.80" x2="300.00" y2="400.50" stroke="#000" stroke-width="1.5" stroke-linecap="butt"/>
<line x1="301.10" y1="396.80" x2="301.10" y2="400.50" stroke="#000" stroke-width="1.5" stroke-linecap="butt"/>
<line x1="302.20" y1="396.80" x2="302.20" y2="400.50" stroke="#000" stroke-width="1.5" stroke-linecap="butt"/>
<line x1="332.11" y1="396.80" x2="332.11" y2="399.10" stroke="#000" stroke-width="1.3" stroke-linecap="butt"/>
<line x1="337.32" y1="396.80" x2="337.32" y2="399.10" stroke="#000" stroke-width="1.3" stroke-linecap="butt"/>
<line x1="341.02" y1="396.80" x2="341.02" y2="399.10" stroke="#000" stroke-width="1.3" stroke-linecap="butt"/>
<line x1="343.89" y1="396.80" x2="343.89" y2="399.10" stroke="#000" stroke-width="1.3" stroke-linecap="butt"/>
<line x1="346.23" y1="396.80" x2="346.23" y2="399.10" stroke="#000" stroke-width="1.3" stroke-linecap="butt"/>
<line x1="348.21" y1="396.80" x2="348.21" y2="399.10" stroke="#000" stroke-width="1.3" stroke-linecap="butt"/>
<line x1="349.93" y1="396.80" x2="349.93" y2="399.10" stroke="#000" stroke-width="1.3" stroke-linecap="butt"/>
<line x1="351.45" y1="396.80" x2="351.45" y2="399.10" stroke="#000" stroke-width="1.3" stroke-linecap="butt"/>
<line x1="361.81" y1="396.80" x2="361.81" y2="399.10" stroke="#000" stroke-width="1.3" stroke-linecap="butt"/>
<line x1="367.02" y1="396.80" x2="367.02" y2="399.10" stroke="#000" stroke-width="1.3" stroke-linecap="butt"/>
<line x1="370.72" y1="396.80" x2="370.72" y2="399.10" stroke="#000" stroke-width="1.3" stroke-linecap="butt"/>
<line x1="373.59" y1="396.80" x2="373.59" y2="399.10" stroke="#000" stroke-width="1.3" stroke-linecap="butt"/>
<line x1="375.93" y1="396.80" x2="375.93" y2="399.10" stroke="#000" stroke-width="1.3" stroke-linecap="butt"/>
<line x1="377.91" y1="396.80" x2="377.91" y2="399.10" stroke="#000" stroke-width="1.3" stroke-linecap="butt"/>
<line x1="379.63" y1="396.80" x2="379.63" y2="399.10" stroke="#000" stroke-width="1.3" stroke-linecap="butt"/>
<line x1="381.15" y1="396.80" x2="381.15" y2="399.10" stroke="#000" stroke-width="1.3" stroke-linecap="butt"/>
<line x1="391.31" y1="396.80" x2="391.31" y2="399.10" stroke="#000" stroke-width="1.3" stroke-linecap="butt"/>
<line x1="305.40" y1="396.80" x2="305.40" y2="399.10" stroke="#000" stroke-width="1.3" stroke-linecap="butt"/>
<line x1="308.40" y1="396.80" x2="308.40" y2="399.10" stroke="#000" stroke-width="1.3" stroke-linecap="butt"/>
<line x1="311.40" y1="396.80" x2="311.40" y2="399.10" stroke="#000" stroke-width="1.3" stroke-linecap="butt"/>
<line x1="314.40" y1="396.80" x2="314.40" y2="399.10" stroke="#000" stroke-width="1.3" stroke-linecap="butt"/>
<line x1="316.90" y1="396.80" x2="316.90" y2="399.10" stroke="#000" stroke-width="1.3" stroke-linecap="butt"/>
<line x1="318.90" y1="396.80" x2="318.90" y2="399.10" stroke="#000" stroke-width="1.3" stroke-linecap="butt"/>
<line x1="320.40" y1="396.80" x2="320.40" y2="399.10" stroke="#000" stroke-width="1.3" stroke-linecap="butt"/>
<line x1="321.90" y1="396.80" x2="321.90" y2="399.10" stroke="#000" stroke-width="1.3" stroke-linecap="butt"/>
<line x1="292.40" y1="396.80" x2="292.40" y2="399.10" stroke="#000" stroke-width="1.3" stroke-linecap="butt"/>
<line x1="289.40" y1="396.80" x2="289.40" y2="399.10" stroke="#000" stroke-width="1.3" stroke-linecap="butt"/>
<line x1="286.40" y1="396.80" x2="286.40" y2="399.10" stroke="#000" stroke-width="1.3" stroke-linecap="butt"/>
<line x1="283.40" y1="396.80" x2="283.40" y2="399.10" stroke="#000" stroke-width="1.3" stroke-linecap="butt"/>
<line x1="280.90" y1="396.80" x2="280.90" y2="399.10" stroke="#000" stroke-width="1.3" stroke-linecap="butt"/>
<line x1="278.90" y1="396.80" x2="278.90" y2="399.10" stroke="#000" stroke-width="1.3" stroke-linecap="butt"/>
<line x1="277.40" y1="396.80" x2="277.40" y2="399.10" stroke="#000" stroke-width="1.3" stroke-linecap="butt"/>
<line x1="276.20" y1="396.80" x2="276.20" y2="399.10" stroke="#000" stroke-width="1.3" stroke-linecap="butt"/>
<line x1="266.29" y1="396.80" x2="266.29" y2="399.10" stroke="#000" stroke-width="1.3" stroke-linecap="butt"/>
<line x1="261.08" y1="396.80" x2="261.08" y2="399.10" stroke="#000" stroke-width="1.3" stroke-linecap="butt"/>
<line x1="257.38" y1="396.80" x2="257.38" y2="399.10" stroke="#000" stroke-width="1.3" stroke-linecap="butt"/>
<line x1="254.51" y1="396.80" x2="254.51" y2="399.10" stroke="#000" stroke-width="1.3" stroke-linecap="butt"/>
<line x1="252.17" y1="396.80" x2="252.17" y2="399.10" stroke="#000" stroke-width="1.3" stroke-linecap="butt"/>
<line x1="243.80" y1="397.15" x2="398.00" y2="397.15" stroke="#000" stroke-width="1.9" stroke-linecap="butt"/>
<path d="M129.30,236.60 C129.80,236.47 131.55,236.40 132.30,235.80 C133.05,235.20 133.25,235.68 133.80,233.00 C134.35,230.32 134.88,230.33 135.60,219.70 C136.32,209.07 137.32,184.63 138.10,169.20 C138.88,153.77 139.65,137.77 140.30,127.10 C140.95,116.43 141.40,106.05 142.00,105.20 C142.60,104.35 143.15,115.03 143.90,122.00 C144.65,128.97 145.58,136.33 146.50,147.00 C147.42,157.67 148.55,175.00 149.40,186.00 C150.25,197.00 150.82,205.97 151.60,213.00 C152.38,220.03 152.83,225.33 154.10,228.20 C155.37,231.07 156.67,229.70 159.20,230.20 C161.73,230.70 166.22,231.27 169.30,231.20 C172.38,231.13 174.62,230.12 177.70,229.80 C180.78,229.48 185.00,229.30 187.80,229.30 C190.60,229.30 192.82,229.28 194.50,229.80 C196.18,230.32 196.48,231.50 197.90,232.40 C199.32,233.30 201.32,234.50 203.00,235.20 C204.68,235.90 207.17,236.37 208.00,236.60" fill="none" stroke="#000" stroke-width="1.9" stroke-linejoin="round" stroke-linecap="round"/>
<path d="M292.00,236.60 C292.45,236.47 294.02,236.40 294.70,235.80 C295.38,235.20 295.48,237.08 296.10,233.00 C296.72,228.92 297.60,224.73 298.40,211.30 C299.20,197.87 300.13,169.23 300.90,152.40 C301.67,135.57 302.38,118.87 303.00,110.30 C303.62,101.73 304.05,101.57 304.60,101.00 C305.15,100.43 305.65,101.15 306.30,106.90 C306.95,112.65 307.72,124.55 308.50,135.50 C309.28,146.45 310.15,160.80 311.00,172.60 C311.85,184.40 312.75,198.17 313.60,206.30 C314.45,214.43 315.27,218.45 316.10,221.40 C316.93,224.35 317.90,223.77 318.60,224.00 C319.30,224.23 319.32,222.38 320.30,222.80 C321.28,223.22 323.23,225.67 324.50,226.50 C325.77,227.33 326.22,227.67 327.90,227.80 C329.58,227.93 332.78,227.93 334.60,227.30 C336.42,226.67 337.67,224.42 338.80,224.00 C339.93,223.58 340.42,225.00 341.40,224.80 C342.38,224.60 343.30,223.08 344.70,222.80 C346.10,222.52 348.40,222.35 349.80,223.10 C351.20,223.85 352.12,226.45 353.10,227.30 C354.08,228.15 354.57,227.22 355.70,228.20 C356.83,229.18 358.37,231.85 359.90,233.20 C361.43,234.55 363.63,235.73 364.90,236.30 C366.17,236.87 367.07,236.55 367.50,236.60" fill="none" stroke="#000" stroke-width="1.9" stroke-linejoin="round" stroke-linecap="round"/>
<path d="M129.30,396.60 C129.80,396.47 131.55,396.40 132.30,395.80 C133.05,395.20 133.20,396.23 133.80,393.00 C134.40,389.77 135.18,387.03 135.90,376.40 C136.62,365.77 137.37,344.93 138.10,329.20 C138.83,313.47 139.60,292.38 140.30,282.00 C141.00,271.62 141.68,268.72 142.30,266.90 C142.92,265.08 143.50,270.53 144.00,271.10 C144.50,271.67 144.80,267.63 145.30,270.30 C145.80,272.97 146.32,275.88 147.00,287.10 C147.68,298.32 148.63,323.28 149.40,337.60 C150.17,351.92 150.82,365.13 151.60,373.00 C152.38,380.87 153.12,381.85 154.10,384.80 C155.08,387.75 156.38,389.17 157.50,390.70 C158.62,392.23 159.68,393.87 160.80,394.00 C161.92,394.13 162.50,391.92 164.20,391.50 C165.90,391.08 168.62,391.78 171.00,391.50 C173.38,391.22 176.68,390.42 178.50,389.80 C180.32,389.18 180.77,387.73 181.90,387.80 C183.03,387.87 183.90,389.92 185.30,390.20 C186.70,390.48 188.48,389.13 190.30,389.50 C192.12,389.87 194.08,391.45 196.20,392.40 C198.32,393.35 200.47,394.50 203.00,395.20 C205.53,395.90 210.00,396.37 211.40,396.60" fill="none" stroke="#000" stroke-width="1.9" stroke-linejoin="round" stroke-linecap="round"/>
<path d="M292.00,396.60 C292.45,396.47 294.02,396.40 294.70,395.80 C295.38,395.20 295.48,396.23 296.10,393.00 C296.72,389.77 297.60,385.63 298.40,376.40 C299.20,367.17 300.05,350.23 300.90,337.60 C301.75,324.97 302.70,310.98 303.50,300.60 C304.30,290.22 305.15,280.22 305.70,275.30 C306.25,270.38 306.42,269.70 306.80,271.10 C307.18,272.50 307.43,277.67 308.00,283.70 C308.57,289.73 309.42,299.72 310.20,307.30 C310.98,314.88 311.87,321.62 312.70,329.20 C313.53,336.78 314.35,346.20 315.20,352.80 C316.05,359.40 317.03,365.85 317.80,368.80 C318.57,371.75 319.02,370.37 319.80,370.50 C320.58,370.63 321.72,369.47 322.50,369.60 C323.28,369.73 323.80,370.23 324.50,371.30 C325.20,372.37 326.00,376.00 326.70,376.00 C327.40,376.00 328.00,373.15 328.70,371.30 C329.40,369.45 330.20,365.52 330.90,364.90 C331.60,364.28 332.13,366.67 332.90,367.60 C333.67,368.53 334.52,370.58 335.50,370.50 C336.48,370.42 337.77,368.65 338.80,367.10 C339.83,365.55 340.85,362.68 341.70,361.20 C342.55,359.72 343.12,357.78 343.90,358.20 C344.68,358.62 345.42,362.22 346.40,363.70 C347.38,365.18 348.82,365.97 349.80,367.10 C350.78,368.23 351.47,368.40 352.30,370.50 C353.13,372.60 353.82,376.90 354.80,379.70 C355.78,382.50 356.80,385.18 358.20,387.30 C359.60,389.42 361.52,391.13 363.20,392.40 C364.88,393.67 366.33,394.20 368.30,394.90 C370.27,395.60 373.88,396.32 375.00,396.60" fill="none" stroke="#000" stroke-width="1.9" stroke-linejoin="round" stroke-linecap="round"/>
<line x1="162.00" y1="174.60" x2="218.40" y2="174.60" stroke="#000" stroke-width="1.5" stroke-linecap="butt"/>
<line x1="162.00" y1="170.90" x2="162.00" y2="178.30" stroke="#000" stroke-width="1.5" stroke-linecap="butt"/>
<line x1="218.40" y1="170.90" x2="218.40" y2="178.30" stroke="#000" stroke-width="1.5" stroke-linecap="butt"/>
<line x1="324.50" y1="174.60" x2="380.90" y2="174.60" stroke="#000" stroke-width="1.5" stroke-linecap="butt"/>
<line x1="324.50" y1="170.90" x2="324.50" y2="178.30" stroke="#000" stroke-width="1.5" stroke-linecap="butt"/>
<line x1="380.90" y1="170.90" x2="380.90" y2="178.30" stroke="#000" stroke-width="1.5" stroke-linecap="butt"/>
<line x1="162.00" y1="335.10" x2="218.40" y2="335.10" stroke="#000" stroke-width="1.5" stroke-linecap="butt"/>
<line x1="162.00" y1="331.40" x2="162.00" y2="338.80" stroke="#000" stroke-width="1.5" stroke-linecap="butt"/>
<line x1="218.40" y1="331.40" x2="218.40" y2="338.80" stroke="#000" stroke-width="1.5" stroke-linecap="butt"/>
<line x1="324.50" y1="335.10" x2="380.90" y2="335.10" stroke="#000" stroke-width="1.5" stroke-linecap="butt"/>
<line x1="324.50" y1="331.40" x2="324.50" y2="338.80" stroke="#000" stroke-width="1.5" stroke-linecap="butt"/>
<line x1="380.90" y1="331.40" x2="380.90" y2="338.80" stroke="#000" stroke-width="1.5" stroke-linecap="butt"/>
<text transform="translate(164.57,164.20) scale(1.1011,1)" font-size="25.5" xml:space="preserve">16.6</text>
<text transform="translate(329.31,164.40) scale(1.0901,1)" font-size="25.5" xml:space="preserve">20.4</text>
<text transform="translate(164.54,327.50) scale(1.1140,1)" font-size="25.5" xml:space="preserve">15.2</text>
<text transform="translate(332.74,327.50) scale(1.0947,1)" font-size="25.5" xml:space="preserve">38.0</text>
<text transform="translate(114.37,80.00) scale(0.9830,1)" font-size="28.2" font-style="italic" xml:space="preserve">Depdc5</text>
<text transform="translate(210.84,71.80) scale(0.9883,1)" font-size="16.3" font-style="italic" xml:space="preserve">ncl</text>
<text transform="translate(275.77,80.00) scale(0.9830,1)" font-size="28.2" font-style="italic" xml:space="preserve">Depdc5</text>
<text transform="translate(372.17,71.90) scale(0.9900,1)" font-size="16.3" font-style="italic" xml:space="preserve">tko</text>
<line x1="66.40" y1="427.10" x2="66.40" y2="174.20" stroke="#000" stroke-width="3.0" stroke-linecap="butt"/>
<line x1="66.40" y1="425.60" x2="332.60" y2="425.60" stroke="#000" stroke-width="3.0" stroke-linecap="butt"/>
<polygon points="66.40,173.70 54.20,203.90 66.40,197.30 78.60,203.90" fill="#000" stroke="none" stroke-width="0" stroke-linejoin="miter"/>
<polygon points="333.10,425.60 302.80,413.50 308.80,425.60 302.80,437.70" fill="#000" stroke="none" stroke-width="0" stroke-linejoin="miter"/>
<text transform="translate(336.57,436.10) scale(1.0062,1)" font-size="28.3" xml:space="preserve">Ki-67</text>
<text transform="translate(75.10,168.60) rotate(-90) scale(0.9455,1)" font-size="29.6" xml:space="preserve">Count.</text>
<text transform="translate(44.70,214.00) rotate(-90) scale(1.0147,1)" font-size="29.5" xml:space="preserve">CD4</text>
<line x1="25.50" y1="151.90" x2="33.30" y2="151.90" stroke="#000" stroke-width="1.5" stroke-linecap="butt"/>
<line x1="29.40" y1="148.00" x2="29.40" y2="155.80" stroke="#000" stroke-width="1.5" stroke-linecap="butt"/>
<text transform="translate(44.70,143.23) rotate(-90) scale(0.9702,1)" font-size="29.5" xml:space="preserve">T</text>
<text transform="translate(44.60,362.38) rotate(-90) scale(0.9386,1)" font-size="29.5" xml:space="preserve">CD8</text>
<line x1="25.60" y1="301.50" x2="33.40" y2="301.50" stroke="#000" stroke-width="1.5" stroke-linecap="butt"/>
<line x1="29.50" y1="297.60" x2="29.50" y2="305.40" stroke="#000" stroke-width="1.5" stroke-linecap="butt"/>
<text transform="translate(44.60,292.03) rotate(-90) scale(0.9762,1)" font-size="29.5" xml:space="preserve">T</text>
<line x1="535.50" y1="167.50" x2="535.50" y2="399.00" stroke="#000" stroke-width="3.2" stroke-linecap="butt"/>
<line x1="526.50" y1="397.40" x2="705.40" y2="397.40" stroke="#000" stroke-width="3.2" stroke-linecap="butt"/>
<line x1="526.50" y1="169.10" x2="535.50" y2="169.10" stroke="#000" stroke-width="3.2" stroke-linecap="butt"/>
<line x1="526.50" y1="225.80" x2="535.50" y2="225.80" stroke="#000" stroke-width="3.2" stroke-linecap="butt"/>
<line x1="526.50" y1="283.00" x2="535.50" y2="283.00" stroke="#000" stroke-width="3.2" stroke-linecap="butt"/>
<line x1="526.50" y1="340.40" x2="535.50" y2="340.40" stroke="#000" stroke-width="3.2" stroke-linecap="butt"/>
<line x1="621.00" y1="397.40" x2="621.00" y2="405.90" stroke="#000" stroke-width="3.2" stroke-linecap="butt"/>
<text transform="translate(492.87,184.80) scale(1.0261,1)" font-size="27.7" xml:space="preserve">40</text>
<text transform="translate(493.13,239.70) scale(1.0175,1)" font-size="27.7" xml:space="preserve">30</text>
<text transform="translate(492.04,294.00) scale(1.0541,1)" font-size="27.7" xml:space="preserve">20</text>
<text transform="translate(493.27,348.60) scale(1.0129,1)" font-size="27.7" xml:space="preserve">10</text>
<text transform="translate(508.15,402.90) scale(1.0627,1)" font-size="27.7" xml:space="preserve">0</text>
<rect x="567.70" y="311.00" width="43.40" height="86.40" fill="#fff" stroke="#000" stroke-width="3.2"/>
<rect x="630.00" y="268.50" width="47.00" height="129.90" fill="#000"/>
<circle cx="582.20" cy="302.90" r="4.4" fill="#fff" stroke="#000" stroke-width="2.6"/>
<circle cx="595.80" cy="308.00" r="4.4" fill="#fff" stroke="#000" stroke-width="2.6"/>
<circle cx="588.70" cy="323.00" r="4.4" fill="#fff" stroke="#000" stroke-width="2.6"/>
<line x1="588.70" y1="303.60" x2="588.70" y2="317.70" stroke="#000" stroke-width="3.0" stroke-linecap="butt"/>
<line x1="577.50" y1="317.70" x2="600.50" y2="317.70" stroke="#000" stroke-width="3.0" stroke-linecap="round"/>
<line x1="586.00" y1="303.60" x2="592.00" y2="303.60" stroke="#000" stroke-width="3.0" stroke-linecap="butt"/>
<line x1="653.30" y1="264.90" x2="653.30" y2="270.00" stroke="#000" stroke-width="3.0" stroke-linecap="butt"/>
<line x1="642.50" y1="264.90" x2="664.50" y2="264.90" stroke="#000" stroke-width="3.0" stroke-linecap="round"/>
<rect x="649.00" y="255.00" width="8.6" height="8.6" rx="0.8" fill="#fff" stroke="#000" stroke-width="2.5"/>
<rect x="655.80" y="266.50" width="8.6" height="8.6" rx="0.8" fill="#fff" stroke="#000" stroke-width="2.5"/>
<rect x="642.00" y="277.40" width="8.6" height="8.6" rx="0.8" fill="#fff" stroke="#000" stroke-width="2.5"/>
<line x1="574.55" y1="242.50" x2="658.95" y2="242.50" stroke="#000" stroke-width="3.1" stroke-linecap="round"/>
<text transform="translate(601.28,242.34) scale(1.1165,1)" font-size="23.5" xml:space="preserve">**</text>
<text transform="translate(579.40,434.40) scale(0.9774,1)" font-size="28.6" xml:space="preserve">CD4</text>
<line x1="637.00" y1="419.70" x2="644.80" y2="419.70" stroke="#000" stroke-width="1.5" stroke-linecap="butt"/>
<line x1="640.90" y1="415.80" x2="640.90" y2="423.60" stroke="#000" stroke-width="1.5" stroke-linecap="butt"/>
<text transform="translate(650.19,434.40) scale(0.9761,1)" font-size="28.6" xml:space="preserve">T</text>
<rect x="556.50" y="97.40" width="14.80" height="14.00" rx="1.4" fill="#f8f8f8" stroke="#000" stroke-width="2.8"/>
<rect x="555.10" y="132.20" width="18.50" height="17.60" rx="0.8" fill="#000"/>
<text transform="translate(580.67,113.80) scale(0.9830,1)" font-size="28.2" font-style="italic" xml:space="preserve">Depdc5</text>
<text transform="translate(676.84,104.80) scale(1.0074,1)" font-size="16.3" font-style="italic" xml:space="preserve">ncl</text>
<text transform="translate(580.67,147.40) scale(0.9830,1)" font-size="28.2" font-style="italic" xml:space="preserve">Depdc5</text>
<text transform="translate(677.15,139.30) scale(1.0241,1)" font-size="16.3" font-style="italic" xml:space="preserve">tko</text>
<text transform="translate(478.50,372.85) rotate(-90) scale(1.0126,1)" font-size="28.3" xml:space="preserve">Ki-67</text>
<line x1="459.50" y1="301.70" x2="467.30" y2="301.70" stroke="#000" stroke-width="1.7" stroke-linecap="butt"/>
<line x1="463.40" y1="297.90" x2="463.40" y2="305.50" stroke="#000" stroke-width="1.7" stroke-linecap="butt"/>
<text transform="translate(478.50,288.82) rotate(-90) scale(1.0236,1)" font-size="28.3" xml:space="preserve">cells(%)</text>
<line x1="777.30" y1="167.50" x2="777.30" y2="399.00" stroke="#000" stroke-width="3.2" stroke-linecap="butt"/>
<line x1="768.30" y1="397.40" x2="950.00" y2="397.40" stroke="#000" stroke-width="3.2" stroke-linecap="butt"/>
<line x1="768.30" y1="169.10" x2="777.30" y2="169.10" stroke="#000" stroke-width="3.2" stroke-linecap="butt"/>
<line x1="768.30" y1="225.80" x2="777.30" y2="225.80" stroke="#000" stroke-width="3.2" stroke-linecap="butt"/>
<line x1="768.30" y1="283.00" x2="777.30" y2="283.00" stroke="#000" stroke-width="3.2" stroke-linecap="butt"/>
<line x1="768.30" y1="340.40" x2="777.30" y2="340.40" stroke="#000" stroke-width="3.2" stroke-linecap="butt"/>
<line x1="862.20" y1="397.40" x2="862.20" y2="405.90" stroke="#000" stroke-width="3.2" stroke-linecap="butt"/>
<text transform="translate(734.19,184.80) scale(1.0089,1)" font-size="27.7" xml:space="preserve">40</text>
<text transform="translate(734.45,239.70) scale(1.0001,1)" font-size="27.7" xml:space="preserve">30</text>
<text transform="translate(733.36,294.00) scale(1.0365,1)" font-size="27.7" xml:space="preserve">20</text>
<text transform="translate(734.61,348.60) scale(0.9948,1)" font-size="27.7" xml:space="preserve">10</text>
<text transform="translate(749.93,402.90) scale(0.9949,1)" font-size="27.7" xml:space="preserve">0</text>
<rect x="808.80" y="324.10" width="43.20" height="73.30" fill="#fff" stroke="#000" stroke-width="3.2"/>
<rect x="871.20" y="200.50" width="47.30" height="197.90" fill="#000"/>
<circle cx="830.10" cy="310.50" r="4.4" fill="#fff" stroke="#000" stroke-width="2.6"/>
<circle cx="823.70" cy="334.50" r="4.4" fill="#fff" stroke="#000" stroke-width="2.6"/>
<circle cx="837.10" cy="328.90" r="4.4" fill="#fff" stroke="#000" stroke-width="2.6"/>
<line x1="830.10" y1="317.40" x2="830.10" y2="331.00" stroke="#000" stroke-width="3.0" stroke-linecap="butt"/>
<line x1="819.40" y1="317.40" x2="841.00" y2="317.40" stroke="#000" stroke-width="3.0" stroke-linecap="round"/>
<line x1="827.00" y1="331.00" x2="833.00" y2="331.00" stroke="#000" stroke-width="3.0" stroke-linecap="butt"/>
<line x1="894.60" y1="191.60" x2="894.60" y2="202.00" stroke="#000" stroke-width="3.0" stroke-linecap="butt"/>
<line x1="884.30" y1="191.60" x2="905.00" y2="191.60" stroke="#000" stroke-width="3.0" stroke-linecap="round"/>
<rect x="890.30" y="176.00" width="8.6" height="8.6" rx="0.8" fill="#fff" stroke="#000" stroke-width="2.5"/>
<line x1="884.60" y1="210.85" x2="891.20" y2="210.85" stroke="#fff" stroke-width="1.4" stroke-linecap="butt"/>
<line x1="884.60" y1="215.15" x2="891.20" y2="215.15" stroke="#fff" stroke-width="1.4" stroke-linecap="butt"/>
<line x1="898.40" y1="210.15" x2="905.00" y2="210.15" stroke="#fff" stroke-width="1.4" stroke-linecap="butt"/>
<line x1="898.40" y1="214.45" x2="905.00" y2="214.45" stroke="#fff" stroke-width="1.4" stroke-linecap="butt"/>
<line x1="815.15" y1="164.50" x2="899.65" y2="164.50" stroke="#000" stroke-width="3.1" stroke-linecap="round"/>
<text transform="translate(840.28,163.64) scale(1.1163,1)" font-size="23.5" xml:space="preserve">***</text>
<text transform="translate(822.89,434.40) scale(0.9883,1)" font-size="28.6" xml:space="preserve">CD8</text>
<line x1="880.30" y1="419.60" x2="888.10" y2="419.60" stroke="#000" stroke-width="1.5" stroke-linecap="butt"/>
<line x1="884.20" y1="415.70" x2="884.20" y2="423.50" stroke="#000" stroke-width="1.5" stroke-linecap="butt"/>
<text transform="translate(893.57,434.40) scale(0.9946,1)" font-size="28.6" xml:space="preserve">T</text>
<line x1="537.10" y1="597.60" x2="537.10" y2="814.40" stroke="#000" stroke-width="3.2" stroke-linecap="butt"/>
<line x1="528.90" y1="812.80" x2="701.70" y2="812.80" stroke="#000" stroke-width="3.2" stroke-linecap="butt"/>
<line x1="528.90" y1="599.20" x2="537.10" y2="599.20" stroke="#000" stroke-width="3.2" stroke-linecap="butt"/>
<line x1="528.90" y1="669.60" x2="537.10" y2="669.60" stroke="#000" stroke-width="3.2" stroke-linecap="butt"/>
<line x1="528.90" y1="740.50" x2="537.10" y2="740.50" stroke="#000" stroke-width="3.2" stroke-linecap="butt"/>
<line x1="617.40" y1="812.80" x2="617.40" y2="821.30" stroke="#000" stroke-width="3.2" stroke-linecap="butt"/>
<text transform="translate(487.58,615.40) scale(0.9579,1)" font-size="27.7" xml:space="preserve">15</text>
<text transform="translate(487.58,684.60) scale(1.0563,1)" font-size="27.7" xml:space="preserve">10</text>
<text transform="translate(506.31,757.20) scale(0.8892,1)" font-size="27.7" xml:space="preserve">5</text>
<text transform="translate(505.93,821.10) scale(0.8969,1)" font-size="27.7" xml:space="preserve">0</text>
<rect x="567.10" y="753.80" width="41.20" height="59.00" fill="#fff" stroke="#000" stroke-width="3.2"/>
<rect x="625.70" y="687.90" width="44.10" height="125.90" fill="#000"/>
<line x1="575.00" y1="751.00" x2="600.00" y2="751.00" stroke="#000" stroke-width="3.0" stroke-linecap="butt"/>
<line x1="575.00" y1="756.50" x2="600.00" y2="756.50" stroke="#000" stroke-width="3.0" stroke-linecap="butt"/>
<circle cx="572.60" cy="753.60" r="3.9" fill="#fff" stroke="#000" stroke-width="2.6"/>
<circle cx="582.20" cy="759.70" r="3.9" fill="#fff" stroke="#000" stroke-width="2.6"/>
<circle cx="592.80" cy="756.30" r="3.9" fill="#fff" stroke="#000" stroke-width="2.6"/>
<circle cx="602.80" cy="748.80" r="3.9" fill="#fff" stroke="#000" stroke-width="2.6"/>
<rect x="643.50" y="662.40" width="8.6" height="8.6" rx="0.8" fill="#fff" stroke="#000" stroke-width="2.5"/>
<rect x="643.50" y="680.90" width="8.6" height="8.6" rx="0.8" fill="#fff" stroke="#000" stroke-width="2.5"/>
<rect x="650.00" y="693.90" width="8.6" height="8.6" rx="0.8" fill="#fff" stroke="#000" stroke-width="2.5"/>
<line x1="647.80" y1="672.50" x2="647.80" y2="690.00" stroke="#000" stroke-width="3.0" stroke-linecap="butt"/>
<line x1="637.80" y1="672.50" x2="657.70" y2="672.50" stroke="#000" stroke-width="3.0" stroke-linecap="round"/>
<line x1="638.20" y1="705.70" x2="644.20" y2="705.70" stroke="#fff" stroke-width="1.4" stroke-linecap="butt"/>
<line x1="638.20" y1="710.10" x2="644.20" y2="710.10" stroke="#fff" stroke-width="1.4" stroke-linecap="butt"/>
<line x1="572.45" y1="648.50" x2="653.55" y2="648.50" stroke="#000" stroke-width="3.1" stroke-linecap="round"/>
<text transform="translate(596.87,650.54) scale(1.1387,1)" font-size="23.5" xml:space="preserve">***</text>
<text transform="translate(567.98,846.40) scale(0.9901,1)" font-size="28.6" xml:space="preserve">CD8</text>
<line x1="625.60" y1="831.00" x2="633.40" y2="831.00" stroke="#000" stroke-width="1.5" stroke-linecap="butt"/>
<line x1="629.50" y1="827.10" x2="629.50" y2="834.90" stroke="#000" stroke-width="1.5" stroke-linecap="butt"/>
<text transform="translate(638.77,846.40) scale(0.9946,1)" font-size="28.6" xml:space="preserve">T</text>
<rect x="561.00" y="528.20" width="14.40" height="13.80" rx="1.4" fill="#f8f8f8" stroke="#000" stroke-width="2.8"/>
<rect x="559.60" y="562.70" width="18.20" height="17.20" rx="0.8" fill="#000"/>
<text transform="translate(584.87,544.50) scale(0.9809,1)" font-size="28.2" font-style="italic" xml:space="preserve">Depdc5</text>
<text transform="translate(681.04,535.10) scale(1.0074,1)" font-size="16.3" font-style="italic" xml:space="preserve">ncl</text>
<text transform="translate(584.87,578.20) scale(0.9809,1)" font-size="28.2" font-style="italic" xml:space="preserve">Depdc5</text>
<text transform="translate(681.05,569.80) scale(1.0290,1)" font-size="16.3" font-style="italic" xml:space="preserve">tko</text>
<text transform="translate(478.40,794.23) rotate(-90) scale(1.0025,1)" font-size="28.3" xml:space="preserve">Dead cells(%)</text>
<line x1="775.20" y1="597.60" x2="775.20" y2="814.40" stroke="#000" stroke-width="3.2" stroke-linecap="butt"/>
<line x1="766.80" y1="812.80" x2="938.00" y2="812.80" stroke="#000" stroke-width="3.2" stroke-linecap="butt"/>
<line x1="766.80" y1="599.20" x2="775.20" y2="599.20" stroke="#000" stroke-width="3.2" stroke-linecap="butt"/>
<line x1="766.80" y1="669.60" x2="775.20" y2="669.60" stroke="#000" stroke-width="3.2" stroke-linecap="butt"/>
<line x1="766.80" y1="740.50" x2="775.20" y2="740.50" stroke="#000" stroke-width="3.2" stroke-linecap="butt"/>
<line x1="855.00" y1="812.80" x2="855.00" y2="821.30" stroke="#000" stroke-width="3.2" stroke-linecap="butt"/>
<text transform="translate(724.91,615.40) scale(0.9433,1)" font-size="27.7" xml:space="preserve">15</text>
<text transform="translate(724.69,684.60) scale(1.0490,1)" font-size="27.7" xml:space="preserve">10</text>
<text transform="translate(743.41,757.20) scale(0.8968,1)" font-size="27.7" xml:space="preserve">5</text>
<text transform="translate(743.22,821.10) scale(0.9044,1)" font-size="27.7" xml:space="preserve">0</text>
<rect x="804.40" y="640.30" width="41.00" height="172.50" fill="#fff" stroke="#000" stroke-width="3.2"/>
<rect x="863.10" y="660.20" width="44.30" height="153.60" fill="#000"/>
<circle cx="818.30" cy="631.90" r="3.9" fill="#fff" stroke="#000" stroke-width="2.6"/>
<circle cx="818.30" cy="650.40" r="3.9" fill="#fff" stroke="#000" stroke-width="2.6"/>
<circle cx="831.00" cy="644.50" r="3.9" fill="#fff" stroke="#000" stroke-width="2.6"/>
<circle cx="837.80" cy="637.40" r="3.9" fill="#fff" stroke="#000" stroke-width="2.6"/>
<line x1="824.80" y1="632.60" x2="824.80" y2="649.00" stroke="#000" stroke-width="3.0" stroke-linecap="butt"/>
<line x1="819.00" y1="632.60" x2="839.00" y2="632.60" stroke="#000" stroke-width="3.0" stroke-linecap="butt"/>
<line x1="819.00" y1="649.00" x2="834.00" y2="649.00" stroke="#000" stroke-width="3.0" stroke-linecap="butt"/>
<rect x="881.00" y="639.20" width="8.6" height="8.6" rx="0.8" fill="#fff" stroke="#000" stroke-width="2.5"/>
<rect x="881.00" y="653.60" width="8.6" height="8.6" rx="0.8" fill="#fff" stroke="#000" stroke-width="2.5"/>
<rect x="887.30" y="663.30" width="8.6" height="8.6" rx="0.8" fill="#fff" stroke="#000" stroke-width="2.5"/>
<line x1="885.30" y1="648.30" x2="885.30" y2="662.00" stroke="#000" stroke-width="3.0" stroke-linecap="butt"/>
<line x1="875.20" y1="648.30" x2="895.00" y2="648.30" stroke="#000" stroke-width="3.0" stroke-linecap="round"/>
<line x1="876.00" y1="678.40" x2="881.60" y2="678.40" stroke="#fff" stroke-width="1.6" stroke-linecap="butt"/>
<text transform="translate(817.36,846.40) scale(1.0112,1)" font-size="28.2" xml:space="preserve">B cell</text>
<line x1="78.40" y1="1045.60" x2="78.40" y2="1272.10" stroke="#000" stroke-width="3.2" stroke-linecap="butt"/>
<line x1="69.30" y1="1270.50" x2="412.30" y2="1270.50" stroke="#000" stroke-width="3.2" stroke-linecap="butt"/>
<line x1="69.30" y1="1047.20" x2="78.40" y2="1047.20" stroke="#000" stroke-width="3.2" stroke-linecap="butt"/>
<line x1="69.30" y1="1121.40" x2="78.40" y2="1121.40" stroke="#000" stroke-width="3.2" stroke-linecap="butt"/>
<line x1="69.30" y1="1195.50" x2="78.40" y2="1195.50" stroke="#000" stroke-width="3.2" stroke-linecap="butt"/>
<line x1="119.40" y1="1270.50" x2="119.40" y2="1279.10" stroke="#000" stroke-width="3.2" stroke-linecap="butt"/>
<line x1="203.60" y1="1270.50" x2="203.60" y2="1279.10" stroke="#000" stroke-width="3.2" stroke-linecap="butt"/>
<line x1="287.40" y1="1270.50" x2="287.40" y2="1279.10" stroke="#000" stroke-width="3.2" stroke-linecap="butt"/>
<line x1="370.30" y1="1270.50" x2="370.30" y2="1279.10" stroke="#000" stroke-width="3.2" stroke-linecap="butt"/>
<text transform="translate(49.76,1060.10) scale(1.0370,1)" font-size="27.7" xml:space="preserve">6</text>
<text transform="translate(49.89,1133.40) scale(1.0008,1)" font-size="27.7" xml:space="preserve">4</text>
<text transform="translate(49.76,1203.90) scale(1.0371,1)" font-size="27.7" xml:space="preserve">2</text>
<text transform="translate(50.55,1275.20) scale(0.9722,1)" font-size="27.7" xml:space="preserve">0</text>
<rect x="92.00" y="1095.50" width="56.20" height="175.00" fill="#fff" stroke="#000" stroke-width="3.2"/>
<rect x="175.50" y="1138.70" width="56.00" height="131.80" fill="#cccccc" stroke="#000" stroke-width="3.2"/>
<rect x="259.70" y="1140.60" width="55.80" height="129.90" fill="#8c8c8c" stroke="#000" stroke-width="3.2"/>
<rect x="330.80" y="1134.20" width="56.50" height="136.30" fill="#474747" stroke="#000" stroke-width="3.2"/>
<line x1="119.50" y1="996.80" x2="119.50" y2="1056.80" stroke="#000" stroke-width="3.0" stroke-linecap="butt"/>
<line x1="108.40" y1="1056.80" x2="132.00" y2="1056.80" stroke="#000" stroke-width="3.0" stroke-linecap="round"/>
<line x1="119.50" y1="998.30" x2="362.30" y2="998.30" stroke="#000" stroke-width="3.0" stroke-linecap="butt"/>
<line x1="360.80" y1="998.30" x2="360.80" y2="1113.20" stroke="#000" stroke-width="3.0" stroke-linecap="butt"/>
<line x1="348.40" y1="1113.20" x2="371.80" y2="1113.20" stroke="#000" stroke-width="3.0" stroke-linecap="round"/>
<line x1="119.50" y1="1025.00" x2="289.80" y2="1025.00" stroke="#000" stroke-width="3.0" stroke-linecap="butt"/>
<line x1="288.30" y1="1025.00" x2="288.30" y2="1113.20" stroke="#000" stroke-width="3.0" stroke-linecap="butt"/>
<line x1="275.10" y1="1113.20" x2="298.70" y2="1113.20" stroke="#000" stroke-width="3.0" stroke-linecap="round"/>
<line x1="119.50" y1="1045.90" x2="203.80" y2="1045.90" stroke="#000" stroke-width="3.0" stroke-linecap="butt"/>
<line x1="202.30" y1="1045.90" x2="202.30" y2="1113.20" stroke="#000" stroke-width="3.0" stroke-linecap="butt"/>
<line x1="189.50" y1="1113.20" x2="213.10" y2="1113.20" stroke="#000" stroke-width="3.0" stroke-linecap="round"/>
<circle cx="119.80" cy="1067.80" r="4.5" fill="#fff" stroke="#000" stroke-width="2.6"/>
<circle cx="119.80" cy="1102.30" r="4.5" fill="#fff" stroke="#000" stroke-width="2.6"/>
<circle cx="119.80" cy="1115.80" r="4.5" fill="#fff" stroke="#000" stroke-width="2.6"/>
<line x1="119.50" y1="1071.50" x2="119.50" y2="1120.00" stroke="#000" stroke-width="3.0" stroke-linecap="butt"/>
<line x1="106.40" y1="1071.50" x2="133.50" y2="1071.50" stroke="#000" stroke-width="3.0" stroke-linecap="round"/>
<line x1="106.40" y1="1120.00" x2="133.50" y2="1120.00" stroke="#000" stroke-width="3.0" stroke-linecap="round"/>
<rect x="199.80" y="1124.70" width="8.4" height="8.4" rx="0.8" fill="#fff" stroke="#000" stroke-width="2.5"/>
<rect x="205.70" y="1136.00" width="8.4" height="8.4" rx="0.8" fill="#fff" stroke="#000" stroke-width="2.5"/>
<rect x="192.80" y="1143.20" width="8.4" height="8.4" rx="0.8" fill="#fff" stroke="#000" stroke-width="2.5"/>
<line x1="203.70" y1="1130.40" x2="203.70" y2="1147.20" stroke="#000" stroke-width="3.0" stroke-linecap="butt"/>
<line x1="190.00" y1="1130.40" x2="217.30" y2="1130.40" stroke="#000" stroke-width="3.0" stroke-linecap="round"/>
<line x1="190.00" y1="1147.20" x2="217.30" y2="1147.20" stroke="#000" stroke-width="3.0" stroke-linecap="round"/>
<polygon points="287.10,1129.08 282.40,1137.72 291.80,1137.72" fill="#fff" stroke="#000" stroke-width="2.4" stroke-linejoin="miter"/>
<polygon points="293.80,1137.18 289.10,1145.82 298.50,1145.82" fill="#fff" stroke="#000" stroke-width="2.4" stroke-linejoin="miter"/>
<polygon points="280.70,1143.88 276.00,1152.52 285.40,1152.52" fill="#fff" stroke="#000" stroke-width="2.4" stroke-linejoin="miter"/>
<line x1="288.00" y1="1132.60" x2="288.00" y2="1147.70" stroke="#000" stroke-width="3.0" stroke-linecap="butt"/>
<line x1="273.80" y1="1132.60" x2="300.70" y2="1132.60" stroke="#000" stroke-width="3.0" stroke-linecap="round"/>
<line x1="273.80" y1="1147.70" x2="300.70" y2="1147.70" stroke="#000" stroke-width="3.0" stroke-linecap="round"/>
<polygon points="349.70,1133.92 345.00,1125.28 354.40,1125.28" fill="#fff" stroke="#000" stroke-width="2.4" stroke-linejoin="miter"/>
<polygon points="376.60,1134.72 371.90,1126.08 381.30,1126.08" fill="#fff" stroke="#000" stroke-width="2.4" stroke-linejoin="miter"/>
<polygon points="362.60,1148.29 357.50,1138.91 367.70,1138.91" fill="#000" stroke="#000" stroke-width="2.4" stroke-linejoin="miter"/>
<line x1="359.60" y1="1127.50" x2="359.60" y2="1141.90" stroke="#000" stroke-width="3.0" stroke-linecap="butt"/>
<line x1="345.50" y1="1127.50" x2="372.30" y2="1127.50" stroke="#000" stroke-width="3.0" stroke-linecap="round"/>
<line x1="345.50" y1="1141.90" x2="372.30" y2="1141.90" stroke="#000" stroke-width="3.0" stroke-linecap="round"/>
<text transform="translate(184.82,1098.64) scale(1.0000,1)" font-size="23.5" xml:space="preserve">*</text>
<text transform="translate(269.92,1098.64) scale(1.0000,1)" font-size="23.5" xml:space="preserve">*</text>
<text transform="translate(313.08,1093.90) scale(1.0031,1)" font-size="28.2" xml:space="preserve">NS</text>
<text transform="translate(38.00,1244.63) rotate(-90) scale(1.0049,1)" font-size="28.3" xml:space="preserve">Dead cells(%)</text>
<text transform="translate(70.29,1305.10) scale(0.9935,1)" font-size="28.3" xml:space="preserve">Vehicle</text>
<text transform="translate(166.92,1305.10) scale(1.0062,1)" font-size="28.3" xml:space="preserve">Z-VAD</text>
<text transform="translate(260.30,1305.10) scale(0.9499,1)" font-size="28.3" xml:space="preserve">Nec-1</text>
<text transform="translate(341.31,1305.10) scale(0.9882,1)" font-size="28.3" xml:space="preserve">DFO</text>
<line x1="538.20" y1="1044.50" x2="538.20" y2="1271.00" stroke="#000" stroke-width="3.2" stroke-linecap="butt"/>
<line x1="528.90" y1="1269.40" x2="872.30" y2="1269.40" stroke="#000" stroke-width="3.2" stroke-linecap="butt"/>
<line x1="528.90" y1="1046.10" x2="538.20" y2="1046.10" stroke="#000" stroke-width="3.2" stroke-linecap="butt"/>
<line x1="528.90" y1="1102.00" x2="538.20" y2="1102.00" stroke="#000" stroke-width="3.2" stroke-linecap="butt"/>
<line x1="528.90" y1="1157.50" x2="538.20" y2="1157.50" stroke="#000" stroke-width="3.2" stroke-linecap="butt"/>
<line x1="528.90" y1="1213.10" x2="538.20" y2="1213.10" stroke="#000" stroke-width="3.2" stroke-linecap="butt"/>
<line x1="579.90" y1="1269.40" x2="579.90" y2="1278.00" stroke="#000" stroke-width="3.2" stroke-linecap="butt"/>
<line x1="663.40" y1="1269.40" x2="663.40" y2="1278.00" stroke="#000" stroke-width="3.2" stroke-linecap="butt"/>
<line x1="747.40" y1="1269.40" x2="747.40" y2="1278.00" stroke="#000" stroke-width="3.2" stroke-linecap="butt"/>
<line x1="830.40" y1="1269.40" x2="830.40" y2="1278.00" stroke="#000" stroke-width="3.2" stroke-linecap="butt"/>
<text transform="translate(492.70,1057.00) scale(1.0083,1)" font-size="27.7" xml:space="preserve">20</text>
<text transform="translate(494.44,1111.80) scale(0.9288,1)" font-size="27.7" xml:space="preserve">15</text>
<text transform="translate(494.40,1164.40) scale(0.9514,1)" font-size="27.7" xml:space="preserve">10</text>
<text transform="translate(508.01,1222.40) scale(0.9804,1)" font-size="27.7" xml:space="preserve">5</text>
<text transform="translate(507.99,1272.90) scale(1.0250,1)" font-size="27.7" xml:space="preserve">0</text>
<rect x="552.00" y="1114.20" width="55.70" height="155.20" fill="#fff" stroke="#000" stroke-width="3.2"/>
<rect x="635.50" y="1143.90" width="56.00" height="125.50" fill="#cccccc" stroke="#000" stroke-width="3.2"/>
<rect x="719.10" y="1140.30" width="56.20" height="129.10" fill="#8c8c8c" stroke="#000" stroke-width="3.2"/>
<rect x="803.20" y="1206.90" width="55.50" height="62.50" fill="#474747" stroke="#000" stroke-width="3.2"/>
<line x1="579.90" y1="1005.10" x2="579.90" y2="1086.70" stroke="#000" stroke-width="3.0" stroke-linecap="butt"/>
<line x1="568.40" y1="1086.70" x2="592.00" y2="1086.70" stroke="#000" stroke-width="3.0" stroke-linecap="round"/>
<line x1="579.90" y1="1006.60" x2="831.80" y2="1006.60" stroke="#000" stroke-width="3.0" stroke-linecap="butt"/>
<line x1="830.30" y1="1006.60" x2="830.30" y2="1185.20" stroke="#000" stroke-width="3.0" stroke-linecap="butt"/>
<line x1="817.50" y1="1185.20" x2="840.90" y2="1185.20" stroke="#000" stroke-width="3.0" stroke-linecap="round"/>
<line x1="579.90" y1="1037.70" x2="748.90" y2="1037.70" stroke="#000" stroke-width="3.0" stroke-linecap="butt"/>
<line x1="747.40" y1="1037.70" x2="747.40" y2="1115.80" stroke="#000" stroke-width="3.0" stroke-linecap="butt"/>
<line x1="735.10" y1="1115.80" x2="758.60" y2="1115.80" stroke="#000" stroke-width="3.0" stroke-linecap="round"/>
<line x1="579.90" y1="1061.80" x2="665.20" y2="1061.80" stroke="#000" stroke-width="3.0" stroke-linecap="butt"/>
<line x1="663.70" y1="1061.80" x2="663.70" y2="1123.20" stroke="#000" stroke-width="3.0" stroke-linecap="butt"/>
<line x1="649.50" y1="1123.20" x2="673.10" y2="1123.20" stroke="#000" stroke-width="3.0" stroke-linecap="round"/>
<circle cx="572.80" cy="1106.90" r="4.5" fill="#fff" stroke="#000" stroke-width="2.6"/>
<circle cx="586.80" cy="1109.30" r="4.5" fill="#fff" stroke="#000" stroke-width="2.6"/>
<circle cx="579.90" cy="1128.30" r="4.5" fill="#fff" stroke="#000" stroke-width="2.6"/>
<line x1="579.90" y1="1103.00" x2="579.90" y2="1126.10" stroke="#000" stroke-width="3.0" stroke-linecap="butt"/>
<line x1="566.40" y1="1103.00" x2="593.50" y2="1103.00" stroke="#000" stroke-width="3.0" stroke-linecap="round"/>
<line x1="566.40" y1="1126.10" x2="593.50" y2="1126.10" stroke="#000" stroke-width="3.0" stroke-linecap="round"/>
<rect x="658.60" y="1135.90" width="8.4" height="8.4" rx="0.8" fill="#fff" stroke="#000" stroke-width="2.5"/>
<rect x="667.10" y="1135.90" width="8.4" height="8.4" rx="0.8" fill="#fff" stroke="#000" stroke-width="2.5"/>
<rect x="652.30" y="1149.80" width="8.4" height="8.4" rx="0.8" fill="#fff" stroke="#000" stroke-width="2.5"/>
<line x1="663.70" y1="1137.50" x2="663.70" y2="1151.90" stroke="#000" stroke-width="3.0" stroke-linecap="butt"/>
<line x1="650.00" y1="1137.50" x2="677.30" y2="1137.50" stroke="#000" stroke-width="3.0" stroke-linecap="round"/>
<line x1="650.00" y1="1151.90" x2="677.30" y2="1151.90" stroke="#000" stroke-width="3.0" stroke-linecap="round"/>
<polygon points="740.40,1129.08 735.70,1137.72 745.10,1137.72" fill="#fff" stroke="#000" stroke-width="2.4" stroke-linejoin="miter"/>
<polygon points="754.20,1129.08 749.50,1137.72 758.90,1137.72" fill="#fff" stroke="#000" stroke-width="2.4" stroke-linejoin="miter"/>
<polygon points="747.40,1151.68 742.70,1160.32 752.10,1160.32" fill="#fff" stroke="#000" stroke-width="2.4" stroke-linejoin="miter"/>
<line x1="747.40" y1="1128.00" x2="747.40" y2="1152.50" stroke="#000" stroke-width="3.0" stroke-linecap="butt"/>
<line x1="733.70" y1="1128.00" x2="760.80" y2="1128.00" stroke="#000" stroke-width="3.0" stroke-linecap="round"/>
<line x1="733.70" y1="1152.50" x2="760.80" y2="1152.50" stroke="#000" stroke-width="3.0" stroke-linecap="round"/>
<polygon points="823.50,1206.52 818.80,1197.88 828.20,1197.88" fill="#fff" stroke="#000" stroke-width="2.4" stroke-linejoin="miter"/>
<polygon points="838.30,1206.52 833.60,1197.88 843.00,1197.88" fill="#fff" stroke="#000" stroke-width="2.4" stroke-linejoin="miter"/>
<polygon points="830.60,1225.60 825.60,1216.40 835.60,1216.40" fill="#000" stroke="#000" stroke-width="2.4" stroke-linejoin="miter"/>
<line x1="830.60" y1="1196.70" x2="830.60" y2="1217.40" stroke="#000" stroke-width="3.0" stroke-linecap="butt"/>
<line x1="817.50" y1="1196.70" x2="844.50" y2="1196.70" stroke="#000" stroke-width="3.0" stroke-linecap="round"/>
<line x1="817.50" y1="1217.40" x2="844.50" y2="1217.40" stroke="#000" stroke-width="3.0" stroke-linecap="round"/>
<text transform="translate(641.92,1105.44) scale(1.0000,1)" font-size="23.5" xml:space="preserve">*</text>
<text transform="translate(701.12,1103.00) scale(0.9863,1)" font-size="28.2" xml:space="preserve">NS</text>
<text transform="translate(789.08,1105.94) scale(1.1238,1)" font-size="23.5" xml:space="preserve">***</text>
<text transform="translate(478.00,1241.53) rotate(-90) scale(1.0025,1)" font-size="28.3" xml:space="preserve">Dead cells(%)</text>
<text transform="translate(533.49,1305.10) scale(0.9880,1)" font-size="28.3" xml:space="preserve">Vehicle</text>
<text transform="translate(629.82,1305.10) scale(1.0013,1)" font-size="28.3" xml:space="preserve">Z-VAD</text>
<text transform="translate(723.38,1305.10) scale(0.9555,1)" font-size="28.3" xml:space="preserve">Nec-1</text>
<text transform="translate(815.50,1305.10) scale(0.9918,1)" font-size="28.3" xml:space="preserve">DFO</text>
<ellipse cx="122.0" cy="643.7" rx="12.5" ry="27.5" fill="#000" opacity="0.095" filter="url(#bl4)"/>
<ellipse cx="120.7" cy="672.7" rx="8.5" ry="17" fill="#000" opacity="0.085" filter="url(#bl4)"/>
<ellipse cx="121.2" cy="643.7" rx="8.5" ry="20" fill="#000" opacity="0.12" filter="url(#bl2)"/>
<ellipse cx="120.6" cy="669.7" rx="4.25" ry="18" fill="#000" opacity="0.075" filter="url(#bl2)"/>
<ellipse cx="120.4" cy="642.7" rx="5.6" ry="13" fill="#000" opacity="0.22" filter="url(#bl1)"/>
<ellipse cx="120.4" cy="642.7" rx="3.8" ry="8.5" fill="#000" opacity="0.4" filter="url(#bl1)"/>
<ellipse cx="120.4" cy="642.7" rx="2.9" ry="6.2" fill="#000" opacity="0.62" filter="url(#bl4)"/>
<ellipse cx="120.4" cy="680.7" rx="4.2" ry="5.5" fill="#000" opacity="0.03" filter="url(#bl1)"/>
<polygon points="150.6,681.2 155.5,676.7 160.0,669.5 162.8,661.2 167.5,658.4 174.0,661.2 180.0,668.0 182.6,676.7 179.2,682.2 163.9,682.8 152.0,682.5" fill="#000" opacity="0.062" filter="url(#bl4)" stroke="#000" stroke-width="2" stroke-linejoin="round"/>
<ellipse cx="168.5" cy="669.0" rx="6.5" ry="6" fill="#000" opacity="0.03" filter="url(#bl1)"/>
<ellipse cx="288.6" cy="638.7" rx="14.2" ry="27.5" fill="#000" opacity="0.095" filter="url(#bl4)"/>
<ellipse cx="287.1" cy="667.7" rx="8.2" ry="17" fill="#000" opacity="0.085" filter="url(#bl4)"/>
<ellipse cx="287.7" cy="638.7" rx="9.656" ry="20" fill="#000" opacity="0.18" filter="url(#bl2)"/>
<ellipse cx="287.0" cy="664.7" rx="4.1" ry="18" fill="#000" opacity="0.15" filter="url(#bl2)"/>
<ellipse cx="286.8" cy="637.7" rx="6.72" ry="13" fill="#000" opacity="0.33" filter="url(#bl1)"/>
<ellipse cx="286.8" cy="637.7" rx="4.56" ry="8.5" fill="#000" opacity="0.4" filter="url(#bl1)"/>
<ellipse cx="286.8" cy="637.7" rx="3.48" ry="6.2" fill="#000" opacity="0.62" filter="url(#bl4)"/>
<ellipse cx="286.8" cy="675.7" rx="4.2" ry="5.5" fill="#000" opacity="0.06" filter="url(#bl1)"/>
<ellipse cx="287.3" cy="638.0" rx="5" ry="11" fill="#000" opacity="0.15" filter="url(#bl2)"/>
<ellipse cx="286.8" cy="668.0" rx="3.5" ry="12" fill="#000" opacity="0.07" filter="url(#bl2)"/>
<ellipse cx="337.0" cy="672.5" rx="17" ry="12.5" fill="#000" opacity="0.075" filter="url(#bl1)"/>
<ellipse cx="340.0" cy="673.0" rx="8" ry="7" fill="#000" opacity="0.05" filter="url(#bl2)"/>
<ellipse cx="324.0" cy="662.0" rx="15" ry="4.5" fill="#000" opacity="0.06" filter="url(#bl1)" transform="rotate(38 324.0 662.0)"/>
<ellipse cx="310.5" cy="633.5" rx="3.4" ry="7" fill="#000" opacity="0.06" filter="url(#bl1)"/>
<ellipse cx="320.8" cy="645.4" rx="2.8" ry="2.8" fill="#000" opacity="0.06" filter="url(#bl1)"/>
<ellipse cx="347.0" cy="658.0" rx="6" ry="9" fill="#000" opacity="0.05" filter="url(#bl1)"/>
<ellipse cx="311.0" cy="655.0" rx="3" ry="5" fill="#000" opacity="0.04" filter="url(#bl1)"/>
<ellipse cx="122.2" cy="815.7" rx="12.5" ry="27.5" fill="#000" opacity="0.095" filter="url(#bl4)"/>
<ellipse cx="120.9" cy="844.7" rx="9.5" ry="17" fill="#000" opacity="0.085" filter="url(#bl4)"/>
<ellipse cx="121.4" cy="815.7" rx="8.5" ry="20" fill="#000" opacity="0.12" filter="url(#bl2)"/>
<ellipse cx="120.8" cy="841.7" rx="4.75" ry="18" fill="#000" opacity="0.105" filter="url(#bl2)"/>
<ellipse cx="120.6" cy="814.7" rx="5.6" ry="13" fill="#000" opacity="0.22" filter="url(#bl1)"/>
<ellipse cx="120.6" cy="814.7" rx="3.8" ry="8.5" fill="#000" opacity="0.4" filter="url(#bl1)"/>
<ellipse cx="120.6" cy="814.7" rx="2.9" ry="6.2" fill="#000" opacity="0.62" filter="url(#bl4)"/>
<ellipse cx="120.6" cy="852.7" rx="4.2" ry="5.5" fill="#000" opacity="0.041999999999999996" filter="url(#bl1)"/>
<polygon points="140.5,830.2 149.6,827.5 163.9,825.8 177.6,828.4 184.6,835.0 189.6,841.9 182.8,850.2 171.1,854.4 153.2,854.4 140.5,852.8" fill="#000" opacity="0.112" filter="url(#bl4)" stroke="#000" stroke-width="2" stroke-linejoin="round"/>
<ellipse cx="170.5" cy="840.5" rx="12" ry="8" fill="#000" opacity="0.05" filter="url(#bl2)"/>
<ellipse cx="134.5" cy="846.5" rx="7" ry="8" fill="#000" opacity="0.07" filter="url(#bl1)"/>
<ellipse cx="289.3" cy="808.9" rx="14.4" ry="27.5" fill="#000" opacity="0.095" filter="url(#bl4)"/>
<ellipse cx="288.0" cy="837.9" rx="8.6" ry="17" fill="#000" opacity="0.085" filter="url(#bl4)"/>
<ellipse cx="288.5" cy="808.9" rx="9.792000000000002" ry="20" fill="#000" opacity="0.22799999999999998" filter="url(#bl2)"/>
<ellipse cx="287.9" cy="834.9" rx="4.3" ry="18" fill="#000" opacity="0.24" filter="url(#bl2)"/>
<ellipse cx="287.7" cy="807.9" rx="7.0" ry="13" fill="#000" opacity="0.418" filter="url(#bl1)"/>
<ellipse cx="287.7" cy="807.9" rx="4.75" ry="8.5" fill="#000" opacity="0.4" filter="url(#bl1)"/>
<ellipse cx="287.7" cy="807.9" rx="3.625" ry="6.2" fill="#000" opacity="0.62" filter="url(#bl4)"/>
<ellipse cx="287.7" cy="845.9" rx="4.2" ry="5.5" fill="#000" opacity="0.096" filter="url(#bl1)"/>
<ellipse cx="288.3" cy="807.5" rx="6.5" ry="13" fill="#000" opacity="0.28" filter="url(#bl2)"/>
<ellipse cx="287.8" cy="835.0" rx="3.8" ry="14" fill="#000" opacity="0.2" filter="url(#bl2)"/>
<ellipse cx="288.0" cy="850.0" rx="5" ry="4" fill="#000" opacity="0.1" filter="url(#bl1)"/>
<polygon points="306.4,793.5 313.7,797.8 323.5,806.8 343.2,815.8 356.7,829.6 360.2,840.1 349.8,850.2 328.9,854.4 306.4,854.4" fill="#000" opacity="0.075" filter="url(#bl4)" stroke="#000" stroke-width="2" stroke-linejoin="round"/>
<ellipse cx="330.0" cy="842.0" rx="27" ry="11" fill="#000" opacity="0.05" filter="url(#bl2)"/>
<ellipse cx="336.0" cy="838.5" rx="19" ry="13" fill="#000" opacity="0.11" filter="url(#bl2)"/>
<ellipse cx="338.0" cy="839.5" rx="10.5" ry="8.5" fill="#000" opacity="0.17" filter="url(#bl2)"/>
<ellipse cx="300.0" cy="846.0" rx="6" ry="8" fill="#000" opacity="0.07" filter="url(#bl1)"/>
<rect x="84.80" y="561.80" width="154.30" height="153.40" fill="none" stroke="#000" stroke-width="1.85"/>
<line x1="80.00" y1="715.20" x2="84.80" y2="715.20" stroke="#000" stroke-width="1.9" stroke-linecap="butt"/>
<line x1="82.90" y1="712.25" x2="84.80" y2="712.25" stroke="#000" stroke-width="1.4" stroke-linecap="butt"/>
<line x1="82.90" y1="709.31" x2="84.80" y2="709.31" stroke="#000" stroke-width="1.4" stroke-linecap="butt"/>
<line x1="82.90" y1="706.37" x2="84.80" y2="706.37" stroke="#000" stroke-width="1.4" stroke-linecap="butt"/>
<line x1="82.90" y1="703.42" x2="84.80" y2="703.42" stroke="#000" stroke-width="1.4" stroke-linecap="butt"/>
<line x1="82.90" y1="700.48" x2="84.80" y2="700.48" stroke="#000" stroke-width="1.4" stroke-linecap="butt"/>
<line x1="82.90" y1="697.53" x2="84.80" y2="697.53" stroke="#000" stroke-width="1.4" stroke-linecap="butt"/>
<line x1="82.90" y1="694.59" x2="84.80" y2="694.59" stroke="#000" stroke-width="1.4" stroke-linecap="butt"/>
<line x1="82.90" y1="691.64" x2="84.80" y2="691.64" stroke="#000" stroke-width="1.4" stroke-linecap="butt"/>
<line x1="82.90" y1="688.70" x2="84.80" y2="688.70" stroke="#000" stroke-width="1.4" stroke-linecap="butt"/>
<line x1="80.00" y1="685.75" x2="84.80" y2="685.75" stroke="#000" stroke-width="1.9" stroke-linecap="butt"/>
<line x1="82.90" y1="682.81" x2="84.80" y2="682.81" stroke="#000" stroke-width="1.4" stroke-linecap="butt"/>
<line x1="82.90" y1="679.86" x2="84.80" y2="679.86" stroke="#000" stroke-width="1.4" stroke-linecap="butt"/>
<line x1="82.90" y1="676.92" x2="84.80" y2="676.92" stroke="#000" stroke-width="1.4" stroke-linecap="butt"/>
<line x1="82.90" y1="673.97" x2="84.80" y2="673.97" stroke="#000" stroke-width="1.4" stroke-linecap="butt"/>
<line x1="82.90" y1="671.03" x2="84.80" y2="671.03" stroke="#000" stroke-width="1.4" stroke-linecap="butt"/>
<line x1="82.90" y1="668.08" x2="84.80" y2="668.08" stroke="#000" stroke-width="1.4" stroke-linecap="butt"/>
<line x1="82.90" y1="665.13" x2="84.80" y2="665.13" stroke="#000" stroke-width="1.4" stroke-linecap="butt"/>
<line x1="82.90" y1="662.19" x2="84.80" y2="662.19" stroke="#000" stroke-width="1.4" stroke-linecap="butt"/>
<line x1="82.90" y1="659.25" x2="84.80" y2="659.25" stroke="#000" stroke-width="1.4" stroke-linecap="butt"/>
<line x1="80.00" y1="656.30" x2="84.80" y2="656.30" stroke="#000" stroke-width="1.9" stroke-linecap="butt"/>
<line x1="82.90" y1="653.36" x2="84.80" y2="653.36" stroke="#000" stroke-width="1.4" stroke-linecap="butt"/>
<line x1="82.90" y1="650.41" x2="84.80" y2="650.41" stroke="#000" stroke-width="1.4" stroke-linecap="butt"/>
<line x1="82.90" y1="647.47" x2="84.80" y2="647.47" stroke="#000" stroke-width="1.4" stroke-linecap="butt"/>
<line x1="82.90" y1="644.52" x2="84.80" y2="644.52" stroke="#000" stroke-width="1.4" stroke-linecap="butt"/>
<line x1="82.90" y1="641.58" x2="84.80" y2="641.58" stroke="#000" stroke-width="1.4" stroke-linecap="butt"/>
<line x1="82.90" y1="638.63" x2="84.80" y2="638.63" stroke="#000" stroke-width="1.4" stroke-linecap="butt"/>
<line x1="82.90" y1="635.69" x2="84.80" y2="635.69" stroke="#000" stroke-width="1.4" stroke-linecap="butt"/>
<line x1="82.90" y1="632.74" x2="84.80" y2="632.74" stroke="#000" stroke-width="1.4" stroke-linecap="butt"/>
<line x1="82.90" y1="629.80" x2="84.80" y2="629.80" stroke="#000" stroke-width="1.4" stroke-linecap="butt"/>
<line x1="80.00" y1="626.85" x2="84.80" y2="626.85" stroke="#000" stroke-width="1.9" stroke-linecap="butt"/>
<line x1="82.90" y1="623.91" x2="84.80" y2="623.91" stroke="#000" stroke-width="1.4" stroke-linecap="butt"/>
<line x1="82.90" y1="620.96" x2="84.80" y2="620.96" stroke="#000" stroke-width="1.4" stroke-linecap="butt"/>
<line x1="82.90" y1="618.02" x2="84.80" y2="618.02" stroke="#000" stroke-width="1.4" stroke-linecap="butt"/>
<line x1="82.90" y1="615.07" x2="84.80" y2="615.07" stroke="#000" stroke-width="1.4" stroke-linecap="butt"/>
<line x1="82.90" y1="612.12" x2="84.80" y2="612.12" stroke="#000" stroke-width="1.4" stroke-linecap="butt"/>
<line x1="82.90" y1="609.18" x2="84.80" y2="609.18" stroke="#000" stroke-width="1.4" stroke-linecap="butt"/>
<line x1="82.90" y1="606.24" x2="84.80" y2="606.24" stroke="#000" stroke-width="1.4" stroke-linecap="butt"/>
<line x1="82.90" y1="603.29" x2="84.80" y2="603.29" stroke="#000" stroke-width="1.4" stroke-linecap="butt"/>
<line x1="82.90" y1="600.35" x2="84.80" y2="600.35" stroke="#000" stroke-width="1.4" stroke-linecap="butt"/>
<line x1="80.00" y1="597.40" x2="84.80" y2="597.40" stroke="#000" stroke-width="1.9" stroke-linecap="butt"/>
<line x1="82.90" y1="594.46" x2="84.80" y2="594.46" stroke="#000" stroke-width="1.4" stroke-linecap="butt"/>
<line x1="82.90" y1="591.51" x2="84.80" y2="591.51" stroke="#000" stroke-width="1.4" stroke-linecap="butt"/>
<line x1="82.90" y1="588.57" x2="84.80" y2="588.57" stroke="#000" stroke-width="1.4" stroke-linecap="butt"/>
<line x1="82.90" y1="585.62" x2="84.80" y2="585.62" stroke="#000" stroke-width="1.4" stroke-linecap="butt"/>
<line x1="82.90" y1="582.68" x2="84.80" y2="582.68" stroke="#000" stroke-width="1.4" stroke-linecap="butt"/>
<line x1="82.90" y1="579.73" x2="84.80" y2="579.73" stroke="#000" stroke-width="1.4" stroke-linecap="butt"/>
<line x1="82.90" y1="576.79" x2="84.80" y2="576.79" stroke="#000" stroke-width="1.4" stroke-linecap="butt"/>
<line x1="82.90" y1="573.84" x2="84.80" y2="573.84" stroke="#000" stroke-width="1.4" stroke-linecap="butt"/>
<line x1="82.90" y1="570.90" x2="84.80" y2="570.90" stroke="#000" stroke-width="1.4" stroke-linecap="butt"/>
<line x1="80.00" y1="567.95" x2="84.80" y2="567.95" stroke="#000" stroke-width="1.9" stroke-linecap="butt"/>
<line x1="82.90" y1="565.01" x2="84.80" y2="565.01" stroke="#000" stroke-width="1.4" stroke-linecap="butt"/>
<line x1="115.20" y1="715.20" x2="115.20" y2="719.40" stroke="#000" stroke-width="1.5" stroke-linecap="butt"/>
<line x1="116.40" y1="715.20" x2="116.40" y2="719.40" stroke="#000" stroke-width="1.5" stroke-linecap="butt"/>
<line x1="117.60" y1="715.20" x2="117.60" y2="719.40" stroke="#000" stroke-width="1.5" stroke-linecap="butt"/>
<line x1="118.80" y1="715.20" x2="118.80" y2="719.40" stroke="#000" stroke-width="1.5" stroke-linecap="butt"/>
<line x1="120.00" y1="715.20" x2="120.00" y2="719.40" stroke="#000" stroke-width="1.5" stroke-linecap="butt"/>
<line x1="121.20" y1="715.20" x2="121.20" y2="719.40" stroke="#000" stroke-width="1.5" stroke-linecap="butt"/>
<line x1="146.00" y1="715.20" x2="146.00" y2="719.40" stroke="#000" stroke-width="1.5" stroke-linecap="butt"/>
<line x1="158.64" y1="715.20" x2="158.64" y2="717.60" stroke="#000" stroke-width="1.3" stroke-linecap="butt"/>
<line x1="166.04" y1="715.20" x2="166.04" y2="717.60" stroke="#000" stroke-width="1.3" stroke-linecap="butt"/>
<line x1="171.29" y1="715.20" x2="171.29" y2="717.60" stroke="#000" stroke-width="1.3" stroke-linecap="butt"/>
<line x1="175.36" y1="715.20" x2="175.36" y2="717.60" stroke="#000" stroke-width="1.3" stroke-linecap="butt"/>
<line x1="178.68" y1="715.20" x2="178.68" y2="717.60" stroke="#000" stroke-width="1.3" stroke-linecap="butt"/>
<line x1="181.49" y1="715.20" x2="181.49" y2="717.60" stroke="#000" stroke-width="1.3" stroke-linecap="butt"/>
<line x1="183.93" y1="715.20" x2="183.93" y2="717.60" stroke="#000" stroke-width="1.3" stroke-linecap="butt"/>
<line x1="186.08" y1="715.20" x2="186.08" y2="717.60" stroke="#000" stroke-width="1.3" stroke-linecap="butt"/>
<line x1="188.00" y1="715.20" x2="188.00" y2="719.40" stroke="#000" stroke-width="1.5" stroke-linecap="butt"/>
<line x1="198.78" y1="715.20" x2="198.78" y2="717.60" stroke="#000" stroke-width="1.3" stroke-linecap="butt"/>
<line x1="205.08" y1="715.20" x2="205.08" y2="717.60" stroke="#000" stroke-width="1.3" stroke-linecap="butt"/>
<line x1="209.55" y1="715.20" x2="209.55" y2="717.60" stroke="#000" stroke-width="1.3" stroke-linecap="butt"/>
<line x1="213.02" y1="715.20" x2="213.02" y2="717.60" stroke="#000" stroke-width="1.3" stroke-linecap="butt"/>
<line x1="215.86" y1="715.20" x2="215.86" y2="717.60" stroke="#000" stroke-width="1.3" stroke-linecap="butt"/>
<line x1="218.25" y1="715.20" x2="218.25" y2="717.60" stroke="#000" stroke-width="1.3" stroke-linecap="butt"/>
<line x1="220.33" y1="715.20" x2="220.33" y2="717.60" stroke="#000" stroke-width="1.3" stroke-linecap="butt"/>
<line x1="222.16" y1="715.20" x2="222.16" y2="717.60" stroke="#000" stroke-width="1.3" stroke-linecap="butt"/>
<line x1="223.80" y1="715.20" x2="223.80" y2="719.40" stroke="#000" stroke-width="1.5" stroke-linecap="butt"/>
<line x1="228.32" y1="715.20" x2="228.32" y2="717.60" stroke="#000" stroke-width="1.3" stroke-linecap="butt"/>
<line x1="230.96" y1="715.20" x2="230.96" y2="717.60" stroke="#000" stroke-width="1.3" stroke-linecap="butt"/>
<line x1="232.83" y1="715.20" x2="232.83" y2="717.60" stroke="#000" stroke-width="1.3" stroke-linecap="butt"/>
<line x1="234.28" y1="715.20" x2="234.28" y2="717.60" stroke="#000" stroke-width="1.3" stroke-linecap="butt"/>
<line x1="235.47" y1="715.20" x2="235.47" y2="717.60" stroke="#000" stroke-width="1.3" stroke-linecap="butt"/>
<line x1="236.48" y1="715.20" x2="236.48" y2="717.60" stroke="#000" stroke-width="1.3" stroke-linecap="butt"/>
<line x1="91.40" y1="715.20" x2="91.40" y2="719.40" stroke="#000" stroke-width="1.5" stroke-linecap="butt"/>
<line x1="96.80" y1="715.20" x2="96.80" y2="717.60" stroke="#000" stroke-width="1.3" stroke-linecap="butt"/>
<line x1="100.80" y1="715.20" x2="100.80" y2="717.60" stroke="#000" stroke-width="1.3" stroke-linecap="butt"/>
<line x1="103.80" y1="715.20" x2="103.80" y2="717.60" stroke="#000" stroke-width="1.3" stroke-linecap="butt"/>
<line x1="106.80" y1="715.20" x2="106.80" y2="717.60" stroke="#000" stroke-width="1.3" stroke-linecap="butt"/>
<line x1="109.80" y1="715.20" x2="109.80" y2="717.60" stroke="#000" stroke-width="1.3" stroke-linecap="butt"/>
<line x1="112.30" y1="715.20" x2="112.30" y2="717.60" stroke="#000" stroke-width="1.3" stroke-linecap="butt"/>
<line x1="124.80" y1="715.20" x2="124.80" y2="717.60" stroke="#000" stroke-width="1.3" stroke-linecap="butt"/>
<line x1="127.80" y1="715.20" x2="127.80" y2="717.60" stroke="#000" stroke-width="1.3" stroke-linecap="butt"/>
<line x1="130.80" y1="715.20" x2="130.80" y2="717.60" stroke="#000" stroke-width="1.3" stroke-linecap="butt"/>
<line x1="134.80" y1="715.20" x2="134.80" y2="717.60" stroke="#000" stroke-width="1.3" stroke-linecap="butt"/>
<line x1="139.80" y1="715.20" x2="139.80" y2="717.60" stroke="#000" stroke-width="1.3" stroke-linecap="butt"/>
<line x1="80.00" y1="715.50" x2="240.00" y2="715.50" stroke="#000" stroke-width="2.0" stroke-linecap="butt"/>
<rect x="250.50" y="561.80" width="154.50" height="153.40" fill="none" stroke="#000" stroke-width="1.85"/>
<line x1="245.70" y1="715.20" x2="250.50" y2="715.20" stroke="#000" stroke-width="1.9" stroke-linecap="butt"/>
<line x1="248.60" y1="712.25" x2="250.50" y2="712.25" stroke="#000" stroke-width="1.4" stroke-linecap="butt"/>
<line x1="248.60" y1="709.31" x2="250.50" y2="709.31" stroke="#000" stroke-width="1.4" stroke-linecap="butt"/>
<line x1="248.60" y1="706.37" x2="250.50" y2="706.37" stroke="#000" stroke-width="1.4" stroke-linecap="butt"/>
<line x1="248.60" y1="703.42" x2="250.50" y2="703.42" stroke="#000" stroke-width="1.4" stroke-linecap="butt"/>
<line x1="248.60" y1="700.48" x2="250.50" y2="700.48" stroke="#000" stroke-width="1.4" stroke-linecap="butt"/>
<line x1="248.60" y1="697.53" x2="250.50" y2="697.53" stroke="#000" stroke-width="1.4" stroke-linecap="butt"/>
<line x1="248.60" y1="694.59" x2="250.50" y2="694.59" stroke="#000" stroke-width="1.4" stroke-linecap="butt"/>
<line x1="248.60" y1="691.64" x2="250.50" y2="691.64" stroke="#000" stroke-width="1.4" stroke-linecap="butt"/>
<line x1="248.60" y1="688.70" x2="250.50" y2="688.70" stroke="#000" stroke-width="1.4" stroke-linecap="butt"/>
<line x1="245.70" y1="685.75" x2="250.50" y2="685.75" stroke="#000" stroke-width="1.9" stroke-linecap="butt"/>
<line x1="248.60" y1="682.81" x2="250.50" y2="682.81" stroke="#000" stroke-width="1.4" stroke-linecap="butt"/>
<line x1="248.60" y1="679.86" x2="250.50" y2="679.86" stroke="#000" stroke-width="1.4" stroke-linecap="butt"/>
<line x1="248.60" y1="676.92" x2="250.50" y2="676.92" stroke="#000" stroke-width="1.4" stroke-linecap="butt"/>
<line x1="248.60" y1="673.97" x2="250.50" y2="673.97" stroke="#000" stroke-width="1.4" stroke-linecap="butt"/>
<line x1="248.60" y1="671.03" x2="250.50" y2="671.03" stroke="#000" stroke-width="1.4" stroke-linecap="butt"/>
<line x1="248.60" y1="668.08" x2="250.50" y2="668.08" stroke="#000" stroke-width="1.4" stroke-linecap="butt"/>
<line x1="248.60" y1="665.13" x2="250.50" y2="665.13" stroke="#000" stroke-width="1.4" stroke-linecap="butt"/>
<line x1="248.60" y1="662.19" x2="250.50" y2="662.19" stroke="#000" stroke-width="1.4" stroke-linecap="butt"/>
<line x1="248.60" y1="659.25" x2="250.50" y2="659.25" stroke="#000" stroke-width="1.4" stroke-linecap="butt"/>
<line x1="245.70" y1="656.30" x2="250.50" y2="656.30" stroke="#000" stroke-width="1.9" stroke-linecap="butt"/>
<line x1="248.60" y1="653.36" x2="250.50" y2="653.36" stroke="#000" stroke-width="1.4" stroke-linecap="butt"/>
<line x1="248.60" y1="650.41" x2="250.50" y2="650.41" stroke="#000" stroke-width="1.4" stroke-linecap="butt"/>
<line x1="248.60" y1="647.47" x2="250.50" y2="647.47" stroke="#000" stroke-width="1.4" stroke-linecap="butt"/>
<line x1="248.60" y1="644.52" x2="250.50" y2="644.52" stroke="#000" stroke-width="1.4" stroke-linecap="butt"/>
<line x1="248.60" y1="641.58" x2="250.50" y2="641.58" stroke="#000" stroke-width="1.4" stroke-linecap="butt"/>
<line x1="248.60" y1="638.63" x2="250.50" y2="638.63" stroke="#000" stroke-width="1.4" stroke-linecap="butt"/>
<line x1="248.60" y1="635.69" x2="250.50" y2="635.69" stroke="#000" stroke-width="1.4" stroke-linecap="butt"/>
<line x1="248.60" y1="632.74" x2="250.50" y2="632.74" stroke="#000" stroke-width="1.4" stroke-linecap="butt"/>
<line x1="248.60" y1="629.80" x2="250.50" y2="629.80" stroke="#000" stroke-width="1.4" stroke-linecap="butt"/>
<line x1="245.70" y1="626.85" x2="250.50" y2="626.85" stroke="#000" stroke-width="1.9" stroke-linecap="butt"/>
<line x1="248.60" y1="623.91" x2="250.50" y2="623.91" stroke="#000" stroke-width="1.4" stroke-linecap="butt"/>
<line x1="248.60" y1="620.96" x2="250.50" y2="620.96" stroke="#000" stroke-width="1.4" stroke-linecap="butt"/>
<line x1="248.60" y1="618.02" x2="250.50" y2="618.02" stroke="#000" stroke-width="1.4" stroke-linecap="butt"/>
<line x1="248.60" y1="615.07" x2="250.50" y2="615.07" stroke="#000" stroke-width="1.4" stroke-linecap="butt"/>
<line x1="248.60" y1="612.12" x2="250.50" y2="612.12" stroke="#000" stroke-width="1.4" stroke-linecap="butt"/>
<line x1="248.60" y1="609.18" x2="250.50" y2="609.18" stroke="#000" stroke-width="1.4" stroke-linecap="butt"/>
<line x1="248.60" y1="606.24" x2="250.50" y2="606.24" stroke="#000" stroke-width="1.4" stroke-linecap="butt"/>
<line x1="248.60" y1="603.29" x2="250.50" y2="603.29" stroke="#000" stroke-width="1.4" stroke-linecap="butt"/>
<line x1="248.60" y1="600.35" x2="250.50" y2="600.35" stroke="#000" stroke-width="1.4" stroke-linecap="butt"/>
<line x1="245.70" y1="597.40" x2="250.50" y2="597.40" stroke="#000" stroke-width="1.9" stroke-linecap="butt"/>
<line x1="248.60" y1="594.46" x2="250.50" y2="594.46" stroke="#000" stroke-width="1.4" stroke-linecap="butt"/>
<line x1="248.60" y1="591.51" x2="250.50" y2="591.51" stroke="#000" stroke-width="1.4" stroke-linecap="butt"/>
<line x1="248.60" y1="588.57" x2="250.50" y2="588.57" stroke="#000" stroke-width="1.4" stroke-linecap="butt"/>
<line x1="248.60" y1="585.62" x2="250.50" y2="585.62" stroke="#000" stroke-width="1.4" stroke-linecap="butt"/>
<line x1="248.60" y1="582.68" x2="250.50" y2="582.68" stroke="#000" stroke-width="1.4" stroke-linecap="butt"/>
<line x1="248.60" y1="579.73" x2="250.50" y2="579.73" stroke="#000" stroke-width="1.4" stroke-linecap="butt"/>
<line x1="248.60" y1="576.79" x2="250.50" y2="576.79" stroke="#000" stroke-width="1.4" stroke-linecap="butt"/>
<line x1="248.60" y1="573.84" x2="250.50" y2="573.84" stroke="#000" stroke-width="1.4" stroke-linecap="butt"/>
<line x1="248.60" y1="570.90" x2="250.50" y2="570.90" stroke="#000" stroke-width="1.4" stroke-linecap="butt"/>
<line x1="245.70" y1="567.95" x2="250.50" y2="567.95" stroke="#000" stroke-width="1.9" stroke-linecap="butt"/>
<line x1="248.60" y1="565.01" x2="250.50" y2="565.01" stroke="#000" stroke-width="1.4" stroke-linecap="butt"/>
<line x1="280.90" y1="715.20" x2="280.90" y2="719.40" stroke="#000" stroke-width="1.5" stroke-linecap="butt"/>
<line x1="282.10" y1="715.20" x2="282.10" y2="719.40" stroke="#000" stroke-width="1.5" stroke-linecap="butt"/>
<line x1="283.30" y1="715.20" x2="283.30" y2="719.40" stroke="#000" stroke-width="1.5" stroke-linecap="butt"/>
<line x1="284.50" y1="715.20" x2="284.50" y2="719.40" stroke="#000" stroke-width="1.5" stroke-linecap="butt"/>
<line x1="285.70" y1="715.20" x2="285.70" y2="719.40" stroke="#000" stroke-width="1.5" stroke-linecap="butt"/>
<line x1="286.90" y1="715.20" x2="286.90" y2="719.40" stroke="#000" stroke-width="1.5" stroke-linecap="butt"/>
<line x1="311.70" y1="715.20" x2="311.70" y2="719.40" stroke="#000" stroke-width="1.5" stroke-linecap="butt"/>
<line x1="324.34" y1="715.20" x2="324.34" y2="717.60" stroke="#000" stroke-width="1.3" stroke-linecap="butt"/>
<line x1="331.74" y1="715.20" x2="331.74" y2="717.60" stroke="#000" stroke-width="1.3" stroke-linecap="butt"/>
<line x1="336.99" y1="715.20" x2="336.99" y2="717.60" stroke="#000" stroke-width="1.3" stroke-linecap="butt"/>
<line x1="341.06" y1="715.20" x2="341.06" y2="717.60" stroke="#000" stroke-width="1.3" stroke-linecap="butt"/>
<line x1="344.38" y1="715.20" x2="344.38" y2="717.60" stroke="#000" stroke-width="1.3" stroke-linecap="butt"/>
<line x1="347.19" y1="715.20" x2="347.19" y2="717.60" stroke="#000" stroke-width="1.3" stroke-linecap="butt"/>
<line x1="349.63" y1="715.20" x2="349.63" y2="717.60" stroke="#000" stroke-width="1.3" stroke-linecap="butt"/>
<line x1="351.78" y1="715.20" x2="351.78" y2="717.60" stroke="#000" stroke-width="1.3" stroke-linecap="butt"/>
<line x1="353.70" y1="715.20" x2="353.70" y2="719.40" stroke="#000" stroke-width="1.5" stroke-linecap="butt"/>
<line x1="364.48" y1="715.20" x2="364.48" y2="717.60" stroke="#000" stroke-width="1.3" stroke-linecap="butt"/>
<line x1="370.78" y1="715.20" x2="370.78" y2="717.60" stroke="#000" stroke-width="1.3" stroke-linecap="butt"/>
<line x1="375.25" y1="715.20" x2="375.25" y2="717.60" stroke="#000" stroke-width="1.3" stroke-linecap="butt"/>
<line x1="378.72" y1="715.20" x2="378.72" y2="717.60" stroke="#000" stroke-width="1.3" stroke-linecap="butt"/>
<line x1="381.56" y1="715.20" x2="381.56" y2="717.60" stroke="#000" stroke-width="1.3" stroke-linecap="butt"/>
<line x1="383.95" y1="715.20" x2="383.95" y2="717.60" stroke="#000" stroke-width="1.3" stroke-linecap="butt"/>
<line x1="386.03" y1="715.20" x2="386.03" y2="717.60" stroke="#000" stroke-width="1.3" stroke-linecap="butt"/>
<line x1="387.86" y1="715.20" x2="387.86" y2="717.60" stroke="#000" stroke-width="1.3" stroke-linecap="butt"/>
<line x1="389.50" y1="715.20" x2="389.50" y2="719.40" stroke="#000" stroke-width="1.5" stroke-linecap="butt"/>
<line x1="394.02" y1="715.20" x2="394.02" y2="717.60" stroke="#000" stroke-width="1.3" stroke-linecap="butt"/>
<line x1="396.66" y1="715.20" x2="396.66" y2="717.60" stroke="#000" stroke-width="1.3" stroke-linecap="butt"/>
<line x1="398.53" y1="715.20" x2="398.53" y2="717.60" stroke="#000" stroke-width="1.3" stroke-linecap="butt"/>
<line x1="399.98" y1="715.20" x2="399.98" y2="717.60" stroke="#000" stroke-width="1.3" stroke-linecap="butt"/>
<line x1="401.17" y1="715.20" x2="401.17" y2="717.60" stroke="#000" stroke-width="1.3" stroke-linecap="butt"/>
<line x1="402.18" y1="715.20" x2="402.18" y2="717.60" stroke="#000" stroke-width="1.3" stroke-linecap="butt"/>
<line x1="257.10" y1="715.20" x2="257.10" y2="719.40" stroke="#000" stroke-width="1.5" stroke-linecap="butt"/>
<line x1="262.50" y1="715.20" x2="262.50" y2="717.60" stroke="#000" stroke-width="1.3" stroke-linecap="butt"/>
<line x1="266.50" y1="715.20" x2="266.50" y2="717.60" stroke="#000" stroke-width="1.3" stroke-linecap="butt"/>
<line x1="269.50" y1="715.20" x2="269.50" y2="717.60" stroke="#000" stroke-width="1.3" stroke-linecap="butt"/>
<line x1="272.50" y1="715.20" x2="272.50" y2="717.60" stroke="#000" stroke-width="1.3" stroke-linecap="butt"/>
<line x1="275.50" y1="715.20" x2="275.50" y2="717.60" stroke="#000" stroke-width="1.3" stroke-linecap="butt"/>
<line x1="278.00" y1="715.20" x2="278.00" y2="717.60" stroke="#000" stroke-width="1.3" stroke-linecap="butt"/>
<line x1="290.50" y1="715.20" x2="290.50" y2="717.60" stroke="#000" stroke-width="1.3" stroke-linecap="butt"/>
<line x1="293.50" y1="715.20" x2="293.50" y2="717.60" stroke="#000" stroke-width="1.3" stroke-linecap="butt"/>
<line x1="296.50" y1="715.20" x2="296.50" y2="717.60" stroke="#000" stroke-width="1.3" stroke-linecap="butt"/>
<line x1="300.50" y1="715.20" x2="300.50" y2="717.60" stroke="#000" stroke-width="1.3" stroke-linecap="butt"/>
<line x1="305.50" y1="715.20" x2="305.50" y2="717.60" stroke="#000" stroke-width="1.3" stroke-linecap="butt"/>
<line x1="245.70" y1="715.50" x2="405.90" y2="715.50" stroke="#000" stroke-width="2.0" stroke-linecap="butt"/>
<rect x="84.80" y="729.50" width="154.30" height="153.60" fill="none" stroke="#000" stroke-width="1.85"/>
<line x1="80.00" y1="883.10" x2="84.80" y2="883.10" stroke="#000" stroke-width="1.9" stroke-linecap="butt"/>
<line x1="82.90" y1="880.15" x2="84.80" y2="880.15" stroke="#000" stroke-width="1.4" stroke-linecap="butt"/>
<line x1="82.90" y1="877.21" x2="84.80" y2="877.21" stroke="#000" stroke-width="1.4" stroke-linecap="butt"/>
<line x1="82.90" y1="874.26" x2="84.80" y2="874.26" stroke="#000" stroke-width="1.4" stroke-linecap="butt"/>
<line x1="82.90" y1="871.32" x2="84.80" y2="871.32" stroke="#000" stroke-width="1.4" stroke-linecap="butt"/>
<line x1="82.90" y1="868.38" x2="84.80" y2="868.38" stroke="#000" stroke-width="1.4" stroke-linecap="butt"/>
<line x1="82.90" y1="865.43" x2="84.80" y2="865.43" stroke="#000" stroke-width="1.4" stroke-linecap="butt"/>
<line x1="82.90" y1="862.49" x2="84.80" y2="862.49" stroke="#000" stroke-width="1.4" stroke-linecap="butt"/>
<line x1="82.90" y1="859.54" x2="84.80" y2="859.54" stroke="#000" stroke-width="1.4" stroke-linecap="butt"/>
<line x1="82.90" y1="856.60" x2="84.80" y2="856.60" stroke="#000" stroke-width="1.4" stroke-linecap="butt"/>
<line x1="80.00" y1="853.65" x2="84.80" y2="853.65" stroke="#000" stroke-width="1.9" stroke-linecap="butt"/>
<line x1="82.90" y1="850.71" x2="84.80" y2="850.71" stroke="#000" stroke-width="1.4" stroke-linecap="butt"/>
<line x1="82.90" y1="847.76" x2="84.80" y2="847.76" stroke="#000" stroke-width="1.4" stroke-linecap="butt"/>
<line x1="82.90" y1="844.82" x2="84.80" y2="844.82" stroke="#000" stroke-width="1.4" stroke-linecap="butt"/>
<line x1="82.90" y1="841.87" x2="84.80" y2="841.87" stroke="#000" stroke-width="1.4" stroke-linecap="butt"/>
<line x1="82.90" y1="838.93" x2="84.80" y2="838.93" stroke="#000" stroke-width="1.4" stroke-linecap="butt"/>
<line x1="82.90" y1="835.98" x2="84.80" y2="835.98" stroke="#000" stroke-width="1.4" stroke-linecap="butt"/>
<line x1="82.90" y1="833.04" x2="84.80" y2="833.04" stroke="#000" stroke-width="1.4" stroke-linecap="butt"/>
<line x1="82.90" y1="830.09" x2="84.80" y2="830.09" stroke="#000" stroke-width="1.4" stroke-linecap="butt"/>
<line x1="82.90" y1="827.14" x2="84.80" y2="827.14" stroke="#000" stroke-width="1.4" stroke-linecap="butt"/>
<line x1="80.00" y1="824.20" x2="84.80" y2="824.20" stroke="#000" stroke-width="1.9" stroke-linecap="butt"/>
<line x1="82.90" y1="821.25" x2="84.80" y2="821.25" stroke="#000" stroke-width="1.4" stroke-linecap="butt"/>
<line x1="82.90" y1="818.31" x2="84.80" y2="818.31" stroke="#000" stroke-width="1.4" stroke-linecap="butt"/>
<line x1="82.90" y1="815.37" x2="84.80" y2="815.37" stroke="#000" stroke-width="1.4" stroke-linecap="butt"/>
<line x1="82.90" y1="812.42" x2="84.80" y2="812.42" stroke="#000" stroke-width="1.4" stroke-linecap="butt"/>
<line x1="82.90" y1="809.48" x2="84.80" y2="809.48" stroke="#000" stroke-width="1.4" stroke-linecap="butt"/>
<line x1="82.90" y1="806.53" x2="84.80" y2="806.53" stroke="#000" stroke-width="1.4" stroke-linecap="butt"/>
<line x1="82.90" y1="803.59" x2="84.80" y2="803.59" stroke="#000" stroke-width="1.4" stroke-linecap="butt"/>
<line x1="82.90" y1="800.64" x2="84.80" y2="800.64" stroke="#000" stroke-width="1.4" stroke-linecap="butt"/>
<line x1="82.90" y1="797.70" x2="84.80" y2="797.70" stroke="#000" stroke-width="1.4" stroke-linecap="butt"/>
<line x1="80.00" y1="794.75" x2="84.80" y2="794.75" stroke="#000" stroke-width="1.9" stroke-linecap="butt"/>
<line x1="82.90" y1="791.81" x2="84.80" y2="791.81" stroke="#000" stroke-width="1.4" stroke-linecap="butt"/>
<line x1="82.90" y1="788.86" x2="84.80" y2="788.86" stroke="#000" stroke-width="1.4" stroke-linecap="butt"/>
<line x1="82.90" y1="785.92" x2="84.80" y2="785.92" stroke="#000" stroke-width="1.4" stroke-linecap="butt"/>
<line x1="82.90" y1="782.97" x2="84.80" y2="782.97" stroke="#000" stroke-width="1.4" stroke-linecap="butt"/>
<line x1="82.90" y1="780.03" x2="84.80" y2="780.03" stroke="#000" stroke-width="1.4" stroke-linecap="butt"/>
<line x1="82.90" y1="777.08" x2="84.80" y2="777.08" stroke="#000" stroke-width="1.4" stroke-linecap="butt"/>
<line x1="82.90" y1="774.13" x2="84.80" y2="774.13" stroke="#000" stroke-width="1.4" stroke-linecap="butt"/>
<line x1="82.90" y1="771.19" x2="84.80" y2="771.19" stroke="#000" stroke-width="1.4" stroke-linecap="butt"/>
<line x1="82.90" y1="768.25" x2="84.80" y2="768.25" stroke="#000" stroke-width="1.4" stroke-linecap="butt"/>
<line x1="80.00" y1="765.30" x2="84.80" y2="765.30" stroke="#000" stroke-width="1.9" stroke-linecap="butt"/>
<line x1="82.90" y1="762.36" x2="84.80" y2="762.36" stroke="#000" stroke-width="1.4" stroke-linecap="butt"/>
<line x1="82.90" y1="759.41" x2="84.80" y2="759.41" stroke="#000" stroke-width="1.4" stroke-linecap="butt"/>
<line x1="82.90" y1="756.47" x2="84.80" y2="756.47" stroke="#000" stroke-width="1.4" stroke-linecap="butt"/>
<line x1="82.90" y1="753.52" x2="84.80" y2="753.52" stroke="#000" stroke-width="1.4" stroke-linecap="butt"/>
<line x1="82.90" y1="750.58" x2="84.80" y2="750.58" stroke="#000" stroke-width="1.4" stroke-linecap="butt"/>
<line x1="82.90" y1="747.63" x2="84.80" y2="747.63" stroke="#000" stroke-width="1.4" stroke-linecap="butt"/>
<line x1="82.90" y1="744.69" x2="84.80" y2="744.69" stroke="#000" stroke-width="1.4" stroke-linecap="butt"/>
<line x1="82.90" y1="741.74" x2="84.80" y2="741.74" stroke="#000" stroke-width="1.4" stroke-linecap="butt"/>
<line x1="82.90" y1="738.80" x2="84.80" y2="738.80" stroke="#000" stroke-width="1.4" stroke-linecap="butt"/>
<line x1="80.00" y1="735.85" x2="84.80" y2="735.85" stroke="#000" stroke-width="1.9" stroke-linecap="butt"/>
<line x1="82.90" y1="732.90" x2="84.80" y2="732.90" stroke="#000" stroke-width="1.4" stroke-linecap="butt"/>
<line x1="115.20" y1="883.10" x2="115.20" y2="887.30" stroke="#000" stroke-width="1.5" stroke-linecap="butt"/>
<line x1="116.40" y1="883.10" x2="116.40" y2="887.30" stroke="#000" stroke-width="1.5" stroke-linecap="butt"/>
<line x1="117.60" y1="883.10" x2="117.60" y2="887.30" stroke="#000" stroke-width="1.5" stroke-linecap="butt"/>
<line x1="118.80" y1="883.10" x2="118.80" y2="887.30" stroke="#000" stroke-width="1.5" stroke-linecap="butt"/>
<line x1="120.00" y1="883.10" x2="120.00" y2="887.30" stroke="#000" stroke-width="1.5" stroke-linecap="butt"/>
<line x1="121.20" y1="883.10" x2="121.20" y2="887.30" stroke="#000" stroke-width="1.5" stroke-linecap="butt"/>
<line x1="146.00" y1="883.10" x2="146.00" y2="887.30" stroke="#000" stroke-width="1.5" stroke-linecap="butt"/>
<line x1="158.64" y1="883.10" x2="158.64" y2="885.50" stroke="#000" stroke-width="1.3" stroke-linecap="butt"/>
<line x1="166.04" y1="883.10" x2="166.04" y2="885.50" stroke="#000" stroke-width="1.3" stroke-linecap="butt"/>
<line x1="171.29" y1="883.10" x2="171.29" y2="885.50" stroke="#000" stroke-width="1.3" stroke-linecap="butt"/>
<line x1="175.36" y1="883.10" x2="175.36" y2="885.50" stroke="#000" stroke-width="1.3" stroke-linecap="butt"/>
<line x1="178.68" y1="883.10" x2="178.68" y2="885.50" stroke="#000" stroke-width="1.3" stroke-linecap="butt"/>
<line x1="181.49" y1="883.10" x2="181.49" y2="885.50" stroke="#000" stroke-width="1.3" stroke-linecap="butt"/>
<line x1="183.93" y1="883.10" x2="183.93" y2="885.50" stroke="#000" stroke-width="1.3" stroke-linecap="butt"/>
<line x1="186.08" y1="883.10" x2="186.08" y2="885.50" stroke="#000" stroke-width="1.3" stroke-linecap="butt"/>
<line x1="188.00" y1="883.10" x2="188.00" y2="887.30" stroke="#000" stroke-width="1.5" stroke-linecap="butt"/>
<line x1="198.78" y1="883.10" x2="198.78" y2="885.50" stroke="#000" stroke-width="1.3" stroke-linecap="butt"/>
<line x1="205.08" y1="883.10" x2="205.08" y2="885.50" stroke="#000" stroke-width="1.3" stroke-linecap="butt"/>
<line x1="209.55" y1="883.10" x2="209.55" y2="885.50" stroke="#000" stroke-width="1.3" stroke-linecap="butt"/>
<line x1="213.02" y1="883.10" x2="213.02" y2="885.50" stroke="#000" stroke-width="1.3" stroke-linecap="butt"/>
<line x1="215.86" y1="883.10" x2="215.86" y2="885.50" stroke="#000" stroke-width="1.3" stroke-linecap="butt"/>
<line x1="218.25" y1="883.10" x2="218.25" y2="885.50" stroke="#000" stroke-width="1.3" stroke-linecap="butt"/>
<line x1="220.33" y1="883.10" x2="220.33" y2="885.50" stroke="#000" stroke-width="1.3" stroke-linecap="butt"/>
<line x1="222.16" y1="883.10" x2="222.16" y2="885.50" stroke="#000" stroke-width="1.3" stroke-linecap="butt"/>
<line x1="223.80" y1="883.10" x2="223.80" y2="887.30" stroke="#000" stroke-width="1.5" stroke-linecap="butt"/>
<line x1="228.32" y1="883.10" x2="228.32" y2="885.50" stroke="#000" stroke-width="1.3" stroke-linecap="butt"/>
<line x1="230.96" y1="883.10" x2="230.96" y2="885.50" stroke="#000" stroke-width="1.3" stroke-linecap="butt"/>
<line x1="232.83" y1="883.10" x2="232.83" y2="885.50" stroke="#000" stroke-width="1.3" stroke-linecap="butt"/>
<line x1="234.28" y1="883.10" x2="234.28" y2="885.50" stroke="#000" stroke-width="1.3" stroke-linecap="butt"/>
<line x1="235.47" y1="883.10" x2="235.47" y2="885.50" stroke="#000" stroke-width="1.3" stroke-linecap="butt"/>
<line x1="236.48" y1="883.10" x2="236.48" y2="885.50" stroke="#000" stroke-width="1.3" stroke-linecap="butt"/>
<line x1="91.40" y1="883.10" x2="91.40" y2="887.30" stroke="#000" stroke-width="1.5" stroke-linecap="butt"/>
<line x1="96.80" y1="883.10" x2="96.80" y2="885.50" stroke="#000" stroke-width="1.3" stroke-linecap="butt"/>
<line x1="100.80" y1="883.10" x2="100.80" y2="885.50" stroke="#000" stroke-width="1.3" stroke-linecap="butt"/>
<line x1="103.80" y1="883.10" x2="103.80" y2="885.50" stroke="#000" stroke-width="1.3" stroke-linecap="butt"/>
<line x1="106.80" y1="883.10" x2="106.80" y2="885.50" stroke="#000" stroke-width="1.3" stroke-linecap="butt"/>
<line x1="109.80" y1="883.10" x2="109.80" y2="885.50" stroke="#000" stroke-width="1.3" stroke-linecap="butt"/>
<line x1="112.30" y1="883.10" x2="112.30" y2="885.50" stroke="#000" stroke-width="1.3" stroke-linecap="butt"/>
<line x1="124.80" y1="883.10" x2="124.80" y2="885.50" stroke="#000" stroke-width="1.3" stroke-linecap="butt"/>
<line x1="127.80" y1="883.10" x2="127.80" y2="885.50" stroke="#000" stroke-width="1.3" stroke-linecap="butt"/>
<line x1="130.80" y1="883.10" x2="130.80" y2="885.50" stroke="#000" stroke-width="1.3" stroke-linecap="butt"/>
<line x1="134.80" y1="883.10" x2="134.80" y2="885.50" stroke="#000" stroke-width="1.3" stroke-linecap="butt"/>
<line x1="139.80" y1="883.10" x2="139.80" y2="885.50" stroke="#000" stroke-width="1.3" stroke-linecap="butt"/>
<line x1="80.00" y1="883.40" x2="240.00" y2="883.40" stroke="#000" stroke-width="2.0" stroke-linecap="butt"/>
<rect x="250.50" y="729.50" width="154.50" height="153.60" fill="none" stroke="#000" stroke-width="1.85"/>
<line x1="245.70" y1="883.10" x2="250.50" y2="883.10" stroke="#000" stroke-width="1.9" stroke-linecap="butt"/>
<line x1="248.60" y1="880.15" x2="250.50" y2="880.15" stroke="#000" stroke-width="1.4" stroke-linecap="butt"/>
<line x1="248.60" y1="877.21" x2="250.50" y2="877.21" stroke="#000" stroke-width="1.4" stroke-linecap="butt"/>
<line x1="248.60" y1="874.26" x2="250.50" y2="874.26" stroke="#000" stroke-width="1.4" stroke-linecap="butt"/>
<line x1="248.60" y1="871.32" x2="250.50" y2="871.32" stroke="#000" stroke-width="1.4" stroke-linecap="butt"/>
<line x1="248.60" y1="868.38" x2="250.50" y2="868.38" stroke="#000" stroke-width="1.4" stroke-linecap="butt"/>
<line x1="248.60" y1="865.43" x2="250.50" y2="865.43" stroke="#000" stroke-width="1.4" stroke-linecap="butt"/>
<line x1="248.60" y1="862.49" x2="250.50" y2="862.49" stroke="#000" stroke-width="1.4" stroke-linecap="butt"/>
<line x1="248.60" y1="859.54" x2="250.50" y2="859.54" stroke="#000" stroke-width="1.4" stroke-linecap="butt"/>
<line x1="248.60" y1="856.60" x2="250.50" y2="856.60" stroke="#000" stroke-width="1.4" stroke-linecap="butt"/>
<line x1="245.70" y1="853.65" x2="250.50" y2="853.65" stroke="#000" stroke-width="1.9" stroke-linecap="butt"/>
<line x1="248.60" y1="850.71" x2="250.50" y2="850.71" stroke="#000" stroke-width="1.4" stroke-linecap="butt"/>
<line x1="248.60" y1="847.76" x2="250.50" y2="847.76" stroke="#000" stroke-width="1.4" stroke-linecap="butt"/>
<line x1="248.60" y1="844.82" x2="250.50" y2="844.82" stroke="#000" stroke-width="1.4" stroke-linecap="butt"/>
<line x1="248.60" y1="841.87" x2="250.50" y2="841.87" stroke="#000" stroke-width="1.4" stroke-linecap="butt"/>
<line x1="248.60" y1="838.93" x2="250.50" y2="838.93" stroke="#000" stroke-width="1.4" stroke-linecap="butt"/>
<line x1="248.60" y1="835.98" x2="250.50" y2="835.98" stroke="#000" stroke-width="1.4" stroke-linecap="butt"/>
<line x1="248.60" y1="833.04" x2="250.50" y2="833.04" stroke="#000" stroke-width="1.4" stroke-linecap="butt"/>
<line x1="248.60" y1="830.09" x2="250.50" y2="830.09" stroke="#000" stroke-width="1.4" stroke-linecap="butt"/>
<line x1="248.60" y1="827.14" x2="250.50" y2="827.14" stroke="#000" stroke-width="1.4" stroke-linecap="butt"/>
<line x1="245.70" y1="824.20" x2="250.50" y2="824.20" stroke="#000" stroke-width="1.9" stroke-linecap="butt"/>
<line x1="248.60" y1="821.25" x2="250.50" y2="821.25" stroke="#000" stroke-width="1.4" stroke-linecap="butt"/>
<line x1="248.60" y1="818.31" x2="250.50" y2="818.31" stroke="#000" stroke-width="1.4" stroke-linecap="butt"/>
<line x1="248.60" y1="815.37" x2="250.50" y2="815.37" stroke="#000" stroke-width="1.4" stroke-linecap="butt"/>
<line x1="248.60" y1="812.42" x2="250.50" y2="812.42" stroke="#000" stroke-width="1.4" stroke-linecap="butt"/>
<line x1="248.60" y1="809.48" x2="250.50" y2="809.48" stroke="#000" stroke-width="1.4" stroke-linecap="butt"/>
<line x1="248.60" y1="806.53" x2="250.50" y2="806.53" stroke="#000" stroke-width="1.4" stroke-linecap="butt"/>
<line x1="248.60" y1="803.59" x2="250.50" y2="803.59" stroke="#000" stroke-width="1.4" stroke-linecap="butt"/>
<line x1="248.60" y1="800.64" x2="250.50" y2="800.64" stroke="#000" stroke-width="1.4" stroke-linecap="butt"/>
<line x1="248.60" y1="797.70" x2="250.50" y2="797.70" stroke="#000" stroke-width="1.4" stroke-linecap="butt"/>
<line x1="245.70" y1="794.75" x2="250.50" y2="794.75" stroke="#000" stroke-width="1.9" stroke-linecap="butt"/>
<line x1="248.60" y1="791.81" x2="250.50" y2="791.81" stroke="#000" stroke-width="1.4" stroke-linecap="butt"/>
<line x1="248.60" y1="788.86" x2="250.50" y2="788.86" stroke="#000" stroke-width="1.4" stroke-linecap="butt"/>
<line x1="248.60" y1="785.92" x2="250.50" y2="785.92" stroke="#000" stroke-width="1.4" stroke-linecap="butt"/>
<line x1="248.60" y1="782.97" x2="250.50" y2="782.97" stroke="#000" stroke-width="1.4" stroke-linecap="butt"/>
<line x1="248.60" y1="780.03" x2="250.50" y2="780.03" stroke="#000" stroke-width="1.4" stroke-linecap="butt"/>
<line x1="248.60" y1="777.08" x2="250.50" y2="777.08" stroke="#000" stroke-width="1.4" stroke-linecap="butt"/>
<line x1="248.60" y1="774.13" x2="250.50" y2="774.13" stroke="#000" stroke-width="1.4" stroke-linecap="butt"/>
<line x1="248.60" y1="771.19" x2="250.50" y2="771.19" stroke="#000" stroke-width="1.4" stroke-linecap="butt"/>
<line x1="248.60" y1="768.25" x2="250.50" y2="768.25" stroke="#000" stroke-width="1.4" stroke-linecap="butt"/>
<line x1="245.70" y1="765.30" x2="250.50" y2="765.30" stroke="#000" stroke-width="1.9" stroke-linecap="butt"/>
<line x1="248.60" y1="762.36" x2="250.50" y2="762.36" stroke="#000" stroke-width="1.4" stroke-linecap="butt"/>
<line x1="248.60" y1="759.41" x2="250.50" y2="759.41" stroke="#000" stroke-width="1.4" stroke-linecap="butt"/>
<line x1="248.60" y1="756.47" x2="250.50" y2="756.47" stroke="#000" stroke-width="1.4" stroke-linecap="butt"/>
<line x1="248.60" y1="753.52" x2="250.50" y2="753.52" stroke="#000" stroke-width="1.4" stroke-linecap="butt"/>
<line x1="248.60" y1="750.58" x2="250.50" y2="750.58" stroke="#000" stroke-width="1.4" stroke-linecap="butt"/>
<line x1="248.60" y1="747.63" x2="250.50" y2="747.63" stroke="#000" stroke-width="1.4" stroke-linecap="butt"/>
<line x1="248.60" y1="744.69" x2="250.50" y2="744.69" stroke="#000" stroke-width="1.4" stroke-linecap="butt"/>
<line x1="248.60" y1="741.74" x2="250.50" y2="741.74" stroke="#000" stroke-width="1.4" stroke-linecap="butt"/>
<line x1="248.60" y1="738.80" x2="250.50" y2="738.80" stroke="#000" stroke-width="1.4" stroke-linecap="butt"/>
<line x1="245.70" y1="735.85" x2="250.50" y2="735.85" stroke="#000" stroke-width="1.9" stroke-linecap="butt"/>
<line x1="248.60" y1="732.90" x2="250.50" y2="732.90" stroke="#000" stroke-width="1.4" stroke-linecap="butt"/>
<line x1="280.90" y1="883.10" x2="280.90" y2="887.30" stroke="#000" stroke-width="1.5" stroke-linecap="butt"/>
<line x1="282.10" y1="883.10" x2="282.10" y2="887.30" stroke="#000" stroke-width="1.5" stroke-linecap="butt"/>
<line x1="283.30" y1="883.10" x2="283.30" y2="887.30" stroke="#000" stroke-width="1.5" stroke-linecap="butt"/>
<line x1="284.50" y1="883.10" x2="284.50" y2="887.30" stroke="#000" stroke-width="1.5" stroke-linecap="butt"/>
<line x1="285.70" y1="883.10" x2="285.70" y2="887.30" stroke="#000" stroke-width="1.5" stroke-linecap="butt"/>
<line x1="286.90" y1="883.10" x2="286.90" y2="887.30" stroke="#000" stroke-width="1.5" stroke-linecap="butt"/>
<line x1="311.70" y1="883.10" x2="311.70" y2="887.30" stroke="#000" stroke-width="1.5" stroke-linecap="butt"/>
<line x1="324.34" y1="883.10" x2="324.34" y2="885.50" stroke="#000" stroke-width="1.3" stroke-linecap="butt"/>
<line x1="331.74" y1="883.10" x2="331.74" y2="885.50" stroke="#000" stroke-width="1.3" stroke-linecap="butt"/>
<line x1="336.99" y1="883.10" x2="336.99" y2="885.50" stroke="#000" stroke-width="1.3" stroke-linecap="butt"/>
<line x1="341.06" y1="883.10" x2="341.06" y2="885.50" stroke="#000" stroke-width="1.3" stroke-linecap="butt"/>
<line x1="344.38" y1="883.10" x2="344.38" y2="885.50" stroke="#000" stroke-width="1.3" stroke-linecap="butt"/>
<line x1="347.19" y1="883.10" x2="347.19" y2="885.50" stroke="#000" stroke-width="1.3" stroke-linecap="butt"/>
<line x1="349.63" y1="883.10" x2="349.63" y2="885.50" stroke="#000" stroke-width="1.3" stroke-linecap="butt"/>
<line x1="351.78" y1="883.10" x2="351.78" y2="885.50" stroke="#000" stroke-width="1.3" stroke-linecap="butt"/>
<line x1="353.70" y1="883.10" x2="353.70" y2="887.30" stroke="#000" stroke-width="1.5" stroke-linecap="butt"/>
<line x1="364.48" y1="883.10" x2="364.48" y2="885.50" stroke="#000" stroke-width="1.3" stroke-linecap="butt"/>
<line x1="370.78" y1="883.10" x2="370.78" y2="885.50" stroke="#000" stroke-width="1.3" stroke-linecap="butt"/>
<line x1="375.25" y1="883.10" x2="375.25" y2="885.50" stroke="#000" stroke-width="1.3" stroke-linecap="butt"/>
<line x1="378.72" y1="883.10" x2="378.72" y2="885.50" stroke="#000" stroke-width="1.3" stroke-linecap="butt"/>
<line x1="381.56" y1="883.10" x2="381.56" y2="885.50" stroke="#000" stroke-width="1.3" stroke-linecap="butt"/>
<line x1="383.95" y1="883.10" x2="383.95" y2="885.50" stroke="#000" stroke-width="1.3" stroke-linecap="butt"/>
<line x1="386.03" y1="883.10" x2="386.03" y2="885.50" stroke="#000" stroke-width="1.3" stroke-linecap="butt"/>
<line x1="387.86" y1="883.10" x2="387.86" y2="885.50" stroke="#000" stroke-width="1.3" stroke-linecap="butt"/>
<line x1="389.50" y1="883.10" x2="389.50" y2="887.30" stroke="#000" stroke-width="1.5" stroke-linecap="butt"/>
<line x1="394.02" y1="883.10" x2="394.02" y2="885.50" stroke="#000" stroke-width="1.3" stroke-linecap="butt"/>
<line x1="396.66" y1="883.10" x2="396.66" y2="885.50" stroke="#000" stroke-width="1.3" stroke-linecap="butt"/>
<line x1="398.53" y1="883.10" x2="398.53" y2="885.50" stroke="#000" stroke-width="1.3" stroke-linecap="butt"/>
<line x1="399.98" y1="883.10" x2="399.98" y2="885.50" stroke="#000" stroke-width="1.3" stroke-linecap="butt"/>
<line x1="401.17" y1="883.10" x2="401.17" y2="885.50" stroke="#000" stroke-width="1.3" stroke-linecap="butt"/>
<line x1="402.18" y1="883.10" x2="402.18" y2="885.50" stroke="#000" stroke-width="1.3" stroke-linecap="butt"/>
<line x1="257.10" y1="883.10" x2="257.10" y2="887.30" stroke="#000" stroke-width="1.5" stroke-linecap="butt"/>
<line x1="262.50" y1="883.10" x2="262.50" y2="885.50" stroke="#000" stroke-width="1.3" stroke-linecap="butt"/>
<line x1="266.50" y1="883.10" x2="266.50" y2="885.50" stroke="#000" stroke-width="1.3" stroke-linecap="butt"/>
<line x1="269.50" y1="883.10" x2="269.50" y2="885.50" stroke="#000" stroke-width="1.3" stroke-linecap="butt"/>
<line x1="272.50" y1="883.10" x2="272.50" y2="885.50" stroke="#000" stroke-width="1.3" stroke-linecap="butt"/>
<line x1="275.50" y1="883.10" x2="275.50" y2="885.50" stroke="#000" stroke-width="1.3" stroke-linecap="butt"/>
<line x1="278.00" y1="883.10" x2="278.00" y2="885.50" stroke="#000" stroke-width="1.3" stroke-linecap="butt"/>
<line x1="290.50" y1="883.10" x2="290.50" y2="885.50" stroke="#000" stroke-width="1.3" stroke-linecap="butt"/>
<line x1="293.50" y1="883.10" x2="293.50" y2="885.50" stroke="#000" stroke-width="1.3" stroke-linecap="butt"/>
<line x1="296.50" y1="883.10" x2="296.50" y2="885.50" stroke="#000" stroke-width="1.3" stroke-linecap="butt"/>
<line x1="300.50" y1="883.10" x2="300.50" y2="885.50" stroke="#000" stroke-width="1.3" stroke-linecap="butt"/>
<line x1="305.50" y1="883.10" x2="305.50" y2="885.50" stroke="#000" stroke-width="1.3" stroke-linecap="butt"/>
<line x1="245.70" y1="883.40" x2="405.90" y2="883.40" stroke="#000" stroke-width="2.0" stroke-linecap="butt"/>
<rect x="139.20" y="612.80" width="81.10" height="76.80" fill="none" stroke="#000" stroke-width="1.7"/>
<rect x="139.20" y="780.70" width="81.10" height="77.30" fill="none" stroke="#000" stroke-width="1.7"/>
<rect x="305.30" y="612.80" width="80.90" height="76.80" fill="none" stroke="#000" stroke-width="1.7"/>
<rect x="305.30" y="780.70" width="80.90" height="77.30" fill="none" stroke="#000" stroke-width="1.7"/>
<text transform="translate(159.68,600.50) scale(1.0437,1)" font-size="27.2" xml:space="preserve">4.02</text>
<text transform="translate(322.29,600.50) scale(1.0349,1)" font-size="27.2" xml:space="preserve">8.90</text>
<text transform="translate(160.92,771.20) scale(1.0049,1)" font-size="27.2" xml:space="preserve">11.4</text>
<text transform="translate(323.58,771.20) scale(1.0235,1)" font-size="27.2" xml:space="preserve">11.8</text>
<text transform="translate(116.27,551.00) scale(0.9830,1)" font-size="28.2" font-style="italic" xml:space="preserve">Depdc5</text>
<text transform="translate(212.75,542.80) scale(0.9405,1)" font-size="16.3" font-style="italic" xml:space="preserve">ncl</text>
<text transform="translate(277.97,551.00) scale(0.9830,1)" font-size="28.2" font-style="italic" xml:space="preserve">Depdc5</text>
<text transform="translate(374.48,542.90) scale(0.9802,1)" font-size="16.3" font-style="italic" xml:space="preserve">tko</text>
<line x1="62.40" y1="909.90" x2="62.40" y2="657.10" stroke="#000" stroke-width="3.0" stroke-linecap="butt"/>
<line x1="62.40" y1="908.40" x2="268.80" y2="908.40" stroke="#000" stroke-width="3.0" stroke-linecap="butt"/>
<polygon points="62.40,656.60 50.10,686.80 62.40,680.20 74.70,686.80" fill="#000" stroke="none" stroke-width="0" stroke-linejoin="miter"/>
<polygon points="269.30,908.40 239.00,896.20 245.30,908.40 239.00,920.60" fill="#000" stroke="none" stroke-width="0" stroke-linejoin="miter"/>
<text transform="translate(268.73,914.40) scale(1.0092,1)" font-size="28" xml:space="preserve">Sytox green</text>
<text transform="translate(71.20,653.51) rotate(-90) scale(0.9709,1)" font-size="29" xml:space="preserve">FSC-A</text>
<text transform="translate(40.60,692.13) rotate(-90) scale(0.9670,1)" font-size="29.5" xml:space="preserve">CD8</text>
<line x1="21.80" y1="630.50" x2="29.60" y2="630.50" stroke="#000" stroke-width="1.5" stroke-linecap="butt"/>
<line x1="25.70" y1="626.60" x2="25.70" y2="634.40" stroke="#000" stroke-width="1.5" stroke-linecap="butt"/>
<text transform="translate(40.60,621.44) rotate(-90) scale(0.9882,1)" font-size="29.5" xml:space="preserve">T</text>
<text transform="translate(40.00,841.32) rotate(-90) scale(0.9969,1)" font-size="28.4" xml:space="preserve">B  cell</text>
</svg>
</body></html>
